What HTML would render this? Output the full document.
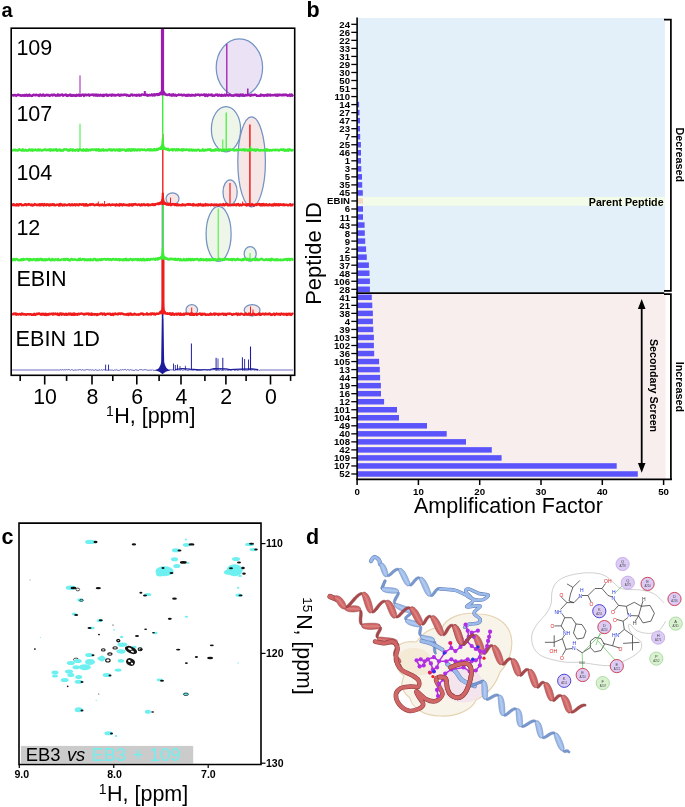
<!DOCTYPE html>
<html><head><meta charset="utf-8"><title>Figure</title>
<style>html,body{margin:0;padding:0;background:#fff;}svg{display:block;will-change:transform;}text{font-family:"Liberation Sans",sans-serif;}</style>
</head><body>
<svg width="685" height="807" viewBox="0 0 685 807">
<rect width="685" height="807" fill="#fff"/>
<g id="panelA">
<ellipse cx="239.4" cy="67.6" rx="23.2" ry="28.7" fill="#ece2f6" stroke="#7393c2" stroke-width="1.25"/>
<ellipse cx="226" cy="129.2" rx="14.6" ry="22.6" fill="#eef6ea" stroke="#7393c2" stroke-width="1.25"/>
<ellipse cx="251.6" cy="161.8" rx="13.8" ry="45" fill="#f7e6e6" stroke="#7393c2" stroke-width="1.25"/>
<ellipse cx="230.1" cy="192.2" rx="7.1" ry="12.4" fill="#f7e6e6" stroke="#7393c2" stroke-width="1.25"/>
<ellipse cx="172.5" cy="198.7" rx="6.5" ry="5.9" fill="#f7e6e6" stroke="#7393c2" stroke-width="1.25"/>
<ellipse cx="218.6" cy="233.9" rx="12.5" ry="27.5" fill="#eef6ea" stroke="#7393c2" stroke-width="1.25"/>
<ellipse cx="250.2" cy="253.8" rx="6" ry="7.2" fill="#eef6ea" stroke="#7393c2" stroke-width="1.25"/>
<ellipse cx="191.8" cy="310" rx="5.8" ry="5.3" fill="#f7e6e6" stroke="#7393c2" stroke-width="1.25"/>
<ellipse cx="252.1" cy="310.3" rx="7.9" ry="5.6" fill="#f7e6e6" stroke="#7393c2" stroke-width="1.25"/>
<polyline points="12.2,370 13,370 13.8,370 14.6,370 15.4,370 16.2,370 17,370 17.8,370 18.6,370 19.4,370 20.2,370 21,370 21.8,370 22.6,370 23.4,370 24.2,370 25,370 25.8,370 26.6,370 27.4,370 28.2,370 29,370 29.8,370 30.6,370 31.4,370 32.2,370 33,370 33.8,370 34.6,370 35.4,370 36.2,370 37,370 37.8,370 38.6,370 39.4,370 40.2,370 41,370 41.8,370 42.6,370 43.4,370 44.2,370 45,370 45.8,370 46.6,370 47.4,370 48.2,370 49,370 49.8,370 50.6,370 51.4,370 52.2,370 53,370 53.8,370 54.6,370 55.4,370 56.2,370 57,370 57.8,370 58.6,370 59.4,370 60.2,369.82 61,369.65 61.8,370.15 62.6,369.57 63.4,370.04 64.2,369.87 65,369.56 65.8,370.01 66.6,369.54 67.4,369.93 68.2,369.57 69,369.59 69.8,369.92 70.6,370.33 71.4,369.62 72.2,369.72 73,370.13 73.8,370.45 74.6,370.08 75.4,369.9 76.2,370.48 77,369.55 77.8,370.36 78.6,369.79 79.4,369.64 80.2,369.62 81,369.81 81.8,370.32 82.6,369.68 83.4,370.08 84.2,370.14 85,369.87 85.8,370.05 86.6,369.56 87.4,369.56 88.2,369.71 89,370.18 89.8,369.93 90.6,369.81 91.4,370.09 92.2,369.95 93,369.8 93.8,370.29 94.6,370.2 95.4,369.74 96.2,370.07 97,370.03 97.8,370.38 98.6,370.23 99.4,369.79 100.2,370.48 101,369.62 101.8,369.92 102.6,370.26 103.4,369.65 104.2,369.99 105,369.54 105.8,370.17 106.6,370.26 107.4,370.07 108.2,370.38 109,369.81 109.8,370.2 110.6,370.09 111.4,370.08 112.2,369.96 113,370.34 113.8,370.44 114.6,369.97 115.4,370.16 116.2,369.56 117,370.2 117.8,370.15 118.6,370.49 119.4,370.32 120.2,369.78 121,369.89 121.8,370.17 122.6,369.52 123.4,369.96 124.2,369.67 125,369.62 125.8,369.56 126.6,370.27 127.4,369.63 128.2,369.75 129,369.89 129.8,370.37 130.6,369.58 131.4,369.95 132.2,370.05 133,370.38 133.8,370.32 134.6,370.36 135.4,369.78 136.2,369.92 137,369.86 137.8,370.38 138.6,370.46 139.4,369.65 140.2,369.68 141,369.73 141.8,369.73 142.6,369.98 143.4,370.09 144.2,369.76 145,369.5 145.8,369.92 146.6,369.87 147.4,370.07 148.2,370.45 149,370.19 149.8,370.02 150.6,370.12 151.4,370.18 152.2,369.55 153,370.4 153.8,370.28 154.6,370.37 155.4,370.3 156.2,369.89 157,369.9 157.8,369.6 158.6,370.13 159.4,369.56 160.2,369.57 161,369.71 161.8,369.66 162.6,369.84 163.4,369.55 164.2,369.5 165,369.65 165.8,369.6 166.6,369.86 167.4,369.53 168.2,370.37 169,370.11 169.8,369.65 170.6,369.75 171.4,369.85 172.2,369.86 173,369.62 173.8,370.35 174.6,370.49 175.4,369.97 176.2,369.98 177,369.59 177.8,369.6 178.6,369.84 179.4,369.76 180.2,370.33 181,369.66 181.8,369.52 182.6,370.45 183.4,370.03 184.2,369.65 185,370.04 185.8,369.53 186.6,370.03 187.4,370.48 188.2,370.36 189,370.2 189.8,369.76 190.6,369.87 191.4,369.67 192.2,370.27 193,370.03 193.8,370.28 194.6,369.83 195.4,369.72 196.2,370.31 197,370.48 197.8,370.35 198.6,370.31 199.4,370.32 200.2,370.24 201,369.73 201.8,370.02 202.6,369.86 203.4,369.53 204.2,369.53 205,369.78 205.8,369.76 206.6,370.19 207.4,370.46 208.2,369.95 209,370.44 209.8,370.49 210.6,370.46 211.4,369.86 212.2,369.72 213,369.73 213.8,369.7 214.6,369.7 215.4,370.12 216.2,370.4 217,370.34 217.8,369.98 218.6,370.15 219.4,370.3 220.2,369.58 221,370.16 221.8,370.41 222.6,370.28 223.4,370.25 224.2,369.98 225,369.68 225.8,370.29 226.6,369.83 227.4,370.3 228.2,370.47 229,369.9 229.8,369.9 230.6,370.45 231.4,370.22 232.2,369.67 233,369.63 233.8,369.65 234.6,370.4 235.4,370.31 236.2,369.65 237,370.33 237.8,370.48 238.6,370.16 239.4,369.85 240.2,370.05 241,369.63 241.8,369.51 242.6,370.47 243.4,370.15 244.2,370.03 245,370.43 245.8,369.93 246.6,370.37 247.4,370.33 248.2,369.71 249,369.75 249.8,369.79 250.6,369.74 251.4,370.09 252.2,369.76 253,369.92 253.8,369.63 254.6,370.41 255.4,369.85 256.2,369.96 257,370.08 257.8,370.4 258.6,369.92 259.4,370.42 260.2,370 261,370 261.8,370 262.6,370 263.4,370 264.2,370 265,370 265.8,370 266.6,370 267.4,370 268.2,370 269,370 269.8,370 270.6,370 271.4,370 272.2,370 273,370 273.8,370 274.6,370 275.4,370 276.2,370 277,370 277.8,370 278.6,370 279.4,370 280.2,370 281,370 281.8,370 282.6,370 283.4,370 284.2,370 285,370 285.8,370 286.6,370 287.4,370 288.2,370 289,370 289.8,370 290.6,370 291.4,370 292.2,370 293,370" fill="none" stroke="#3c3ca8" stroke-width="1.0" stroke-linejoin="round" opacity="0.8"/>
<path d="M155,370.3 Q160,369.6 161.2,362 L162,318 L163.2,318 L164.2,362 Q165.5,369.6 170.5,370.3 Q165,371.3 162.6,374.3 Q160,371.3 155,370.3Z" fill="#1c1c9c"/>
<line x1="162.6" y1="199" x2="162.6" y2="372" stroke="#1c1c9c" stroke-width="1.6"/>
<line x1="105.6" y1="364.6" x2="105.6" y2="370.3" stroke="#1c1c9c" stroke-width="0.9"/>
<line x1="108.5" y1="364.6" x2="108.5" y2="370.3" stroke="#1c1c9c" stroke-width="0.9"/>
<line x1="173.5" y1="363.5" x2="173.5" y2="370.3" stroke="#1c1c9c" stroke-width="0.9"/>
<line x1="175.3" y1="365" x2="175.3" y2="370.3" stroke="#1c1c9c" stroke-width="0.9"/>
<line x1="177.5" y1="364.5" x2="177.5" y2="370.3" stroke="#1c1c9c" stroke-width="0.9"/>
<line x1="180" y1="366" x2="180" y2="370.3" stroke="#1c1c9c" stroke-width="0.8"/>
<line x1="185.4" y1="365.7" x2="185.4" y2="370.3" stroke="#1c1c9c" stroke-width="0.8"/>
<line x1="191.4" y1="343.5" x2="191.4" y2="370.3" stroke="#1c1c9c" stroke-width="1.0"/>
<line x1="216.1" y1="357.8" x2="216.1" y2="370.3" stroke="#1c1c9c" stroke-width="1.0"/>
<line x1="218" y1="358.5" x2="218" y2="370.3" stroke="#1c1c9c" stroke-width="0.8"/>
<line x1="222.8" y1="357.8" x2="222.8" y2="370.3" stroke="#1c1c9c" stroke-width="1.0"/>
<line x1="242.4" y1="357.3" x2="242.4" y2="370.3" stroke="#1c1c9c" stroke-width="1.0"/>
<line x1="244.6" y1="359" x2="244.6" y2="370.3" stroke="#1c1c9c" stroke-width="0.9"/>
<line x1="248.5" y1="359.5" x2="248.5" y2="370.3" stroke="#1c1c9c" stroke-width="0.9"/>
<line x1="250.5" y1="346.5" x2="250.5" y2="370.3" stroke="#1c1c9c" stroke-width="1.1"/>
<polyline points="175,369.5 182,368.5 190,369.2 200,369.8 210,369.5 214,368.6 226,368.8 230,369.6 240,369.2 252,368.8 258,369.6" fill="none" stroke="#1c1c9c" stroke-width="1.2" stroke-linejoin="round" />
<polyline points="12,314.2 12.6,314.25 13.2,314.23 13.8,313.48 14.4,314.11 15,313.72 15.6,313.46 16.2,314.65 16.8,313.71 17.4,314.16 18,314.54 18.6,314.28 19.2,313.94 19.8,314.23 20.4,314.28 21,314.63 21.6,313.61 22.2,314.29 22.8,313.82 23.4,313.86 24,314.61 24.6,314.21 25.2,314.29 25.8,314.59 26.4,314.82 27,314.11 27.6,314.37 28.2,314.21 28.8,314.22 29.4,314.49 30,314.13 30.6,314.25 31.2,314.17 31.8,314.86 32.4,314.5 33,314.76 33.6,314.86 34.2,313.84 34.8,314.29 35.4,314.86 36,314.71 36.6,313.65 37.2,313.63 37.8,314.11 38.4,313.56 39,313.81 39.6,313.56 40.2,314.45 40.8,314.62 41.4,314.79 42,313.68 42.6,314.52 43.2,314.44 43.8,313.66 44.4,314.77 45,314.9 45.6,313.78 46.2,314.88 46.8,314.05 47.4,314.18 48,314.93 48.6,314.7 49.2,313.69 49.8,314.1 50.4,314.22 51,313.96 51.6,313.74 52.2,313.93 52.8,314.53 53.4,313.48 54,314.28 54.6,314.11 55.2,313.48 55.8,313.95 56.4,314.38 57,314.22 57.6,313.54 58.2,314.93 58.8,314.63 59.4,314.91 60,313.61 60.6,313.85 61.2,313.51 61.8,314.62 62.4,313.85 63,313.64 63.6,314.08 64.2,314.82 64.8,314.68 65.4,313.84 66,313.67 66.6,314.83 67.2,314.3 67.8,314.5 68.4,313.58 69,313.53 69.6,314.48 70.2,314.09 70.8,313.56 71.4,314.86 72,314.4 72.6,314.65 73.2,313.57 73.8,314.73 74.4,313.55 75,314.74 75.6,314.13 76.2,313.96 76.8,314.28 77.4,314.84 78,313.85 78.6,313.64 79.2,314.24 79.8,313.8 80.4,313.61 81,313.69 81.6,313.52 82.2,313.75 82.8,313.92 83.4,313.9 84,314.59 84.6,313.88 85.2,314.2 85.8,313.71 86.4,313.97 87,313.47 87.6,313.82 88.2,313.47 88.8,314.55 89.4,314.27 90,313.73 90.6,314.16 91.2,314.85 91.8,313.61 92.4,314.67 93,314.09 93.6,314.19 94.2,314.7 94.8,314.04 95.4,314.21 96,314.48 96.6,314.92 97.2,313.96 97.8,314.69 98.4,314.51 99,314.4 99.6,314.05 100.2,313.97 100.8,313.53 101.4,313.64 102,313.55 102.6,314.56 103.2,313.83 103.8,313.69 104.4,313.57 105,314.71 105.6,314.75 106.2,314.45 106.8,313.87 107.4,313.81 108,313.88 108.6,314.13 109.2,313.68 109.8,314.11 110.4,313.84 111,314.89 111.6,314.9 112.2,314.26 112.8,313.81 113.4,314.89 114,313.91 114.6,313.98 115.2,313.44 115.8,314.01 116.4,314.15 117,314.2 117.6,313.74 118.2,314.2 118.8,313.45 119.4,313.84 120,313.57 120.6,314.04 121.2,313.5 121.8,313.47 122.4,313.89 123,313.79 123.6,314.32 124.2,314.23 124.8,314.56 125.4,314.42 126,314.51 126.6,314.75 127.2,314.02 127.8,313.92 128.4,314.91 129,313.66 129.6,314.52 130.2,314.4 130.8,313.5 131.4,314.68 132,314.77 132.6,314.37 133.2,314.53 133.8,314.65 134.4,313.64 135,314.21 135.6,314.18 136.2,314.68 136.8,314.63 137.4,314.66 138,314.3 138.6,314.76 139.2,314.44 139.8,314.45 140.4,313.76 141,313.46 141.6,313.61 142.2,313.95 142.8,313.56 143.4,314.65 144,314.23 144.6,314.33 145.2,314.33 145.8,314.41 146.4,314.11 147,313.38 147.6,314.56 148.2,314.48 148.8,314.11 149.4,314.15 150,314.32 150.6,313.42 151.2,314.42 151.8,313.67 152.4,313.39 153,313.65 153.6,314.32 154.2,313.51 154.8,314.27 155.4,314.58 156,313.8 156.6,313.57 157.2,313.62 157.8,313.81 158.4,313.79 159,313.36 159.6,313.14 160.2,311.94 160.8,311.62 161.4,311.32 162,311.68 162.6,310.91 163.2,311.52 163.8,311.11 164.4,311.64 165,312.35 165.6,313.28 166.2,313.55 166.8,313.71 167.4,313.27 168,313.71 168.6,313.72 169.2,313.78 169.8,313.31 170.4,314.52 171,313.51 171.6,314.71 172.2,314.67 172.8,313.31 173.4,313.99 174,314.54 174.6,314.78 175.2,314.01 175.8,313.75 176.4,313.67 177,314.78 177.6,313.69 178.2,314.25 178.8,313.59 179.4,314.17 180,314.82 180.6,313.59 181.2,314.63 181.8,314.16 182.4,314.73 183,314.46 183.6,313.76 184.2,314.76 184.8,314.14 185.4,313.45 186,313.42 186.6,314.16 187.2,314.1 187.8,313.87 188.4,313.63 189,313.94 189.6,313.9 190.2,314.69 190.8,313.43 191.4,314.55 192,314.69 192.6,313.61 193.2,314.82 193.8,314.5 194.4,314.78 195,313.87 195.6,313.99 196.2,314.02 196.8,314.93 197.4,314.32 198,313.98 198.6,314.08 199.2,313.85 199.8,313.51 200.4,313.59 201,314.69 201.6,313.87 202.2,314.84 202.8,313.81 203.4,313.84 204,314.21 204.6,313.72 205.2,314 205.8,314.87 206.4,314.77 207,314.66 207.6,314.39 208.2,314.81 208.8,314.85 209.4,314.27 210,314.52 210.6,313.52 211.2,314.54 211.8,314.12 212.4,314.57 213,314.41 213.6,313.87 214.2,313.52 214.8,314.83 215.4,313.63 216,314.15 216.6,313.96 217.2,313.89 217.8,314.55 218.4,314.91 219,313.83 219.6,314.43 220.2,313.9 220.8,314.28 221.4,314.04 222,313.7 222.6,313.69 223.2,313.76 223.8,314.8 224.4,314.19 225,313.78 225.6,314.8 226.2,314.94 226.8,314.12 227.4,313.65 228,313.73 228.6,313.58 229.2,313.96 229.8,313.58 230.4,313.8 231,313.83 231.6,314.3 232.2,314.78 232.8,314.57 233.4,314.07 234,314.07 234.6,314.23 235.2,314.01 235.8,313.95 236.4,313.54 237,313.86 237.6,314.9 238.2,313.64 238.8,314.2 239.4,314.39 240,314.74 240.6,313.77 241.2,313.85 241.8,313.82 242.4,314.05 243,314.12 243.6,314.88 244.2,314.72 244.8,314.76 245.4,313.48 246,313.5 246.6,314.51 247.2,314.79 247.8,314.16 248.4,314.33 249,313.45 249.6,314.03 250.2,314.84 250.8,314.69 251.4,314.73 252,314.91 252.6,313.82 253.2,313.61 253.8,313.68 254.4,314.23 255,314.47 255.6,314.86 256.2,314.53 256.8,314.42 257.4,314.6 258,314.13 258.6,314.28 259.2,313.51 259.8,314.62 260.4,313.8 261,314.83 261.6,314.42 262.2,313.9 262.8,313.64 263.4,313.83 264,314.4 264.6,314.5 265.2,313.62 265.8,313.55 266.4,314.23 267,314.32 267.6,314.03 268.2,313.78 268.8,314.35 269.4,313.46 270,313.9 270.6,314.14 271.2,314.89 271.8,314.42 272.4,314.77 273,314.16 273.6,313.8 274.2,313.82 274.8,314.89 275.4,314.51 276,313.91 276.6,313.48 277.2,314.2 277.8,314.46 278.4,314.08 279,313.83 279.6,314.45 280.2,314.84 280.8,313.79 281.4,313.5 282,313.96 282.6,314.08 283.2,314.47 283.8,313.75 284.4,314.64 285,314.56 285.6,314.21 286.2,313.76 286.8,314.9 287.4,313.92 288,314.68 288.6,313.8 289.2,313.78 289.8,314.59 290.4,313.89 291,314.88 291.6,314.19 292.2,313.73 292.8,313.78 293.4,314.07" fill="none" stroke="#f01c1c" stroke-width="2.4" stroke-linejoin="round" />
<line x1="191.7" y1="307.5" x2="191.7" y2="314.2" stroke="#f01c1c" stroke-width="1.0"/>
<line x1="250.5" y1="306.5" x2="250.5" y2="314.2" stroke="#f01c1c" stroke-width="1.0"/>
<line x1="253" y1="309.5" x2="253" y2="314.2" stroke="#f01c1c" stroke-width="1.0"/>
<line x1="163" y1="257" x2="163" y2="314.2" stroke="#f01c1c" stroke-width="3.0"/>
<path d="M159,314.2 Q161.8,313.2 162,302.2 L164,302.2 Q164.2,313.2 167,314.2Z" fill="#f01c1c"/>
<polyline points="12,259.85 12.6,260.27 13.2,259.07 13.8,259.44 14.4,259.17 15,260.31 15.6,259.06 16.2,258.93 16.8,258.94 17.4,259.44 18,260.2 18.6,260.17 19.2,259.95 19.8,260.35 20.4,260.25 21,259.34 21.6,259.13 22.2,260.25 22.8,259.97 23.4,258.9 24,259.85 24.6,259.42 25.2,259.41 25.8,259.35 26.4,259.1 27,258.85 27.6,259.27 28.2,259.38 28.8,260.28 29.4,259.03 30,260.3 30.6,259.16 31.2,259.38 31.8,260.08 32.4,260.08 33,259.5 33.6,258.92 34.2,259.56 34.8,259.41 35.4,260.23 36,259.14 36.6,259.4 37.2,260.19 37.8,258.89 38.4,259.46 39,260.07 39.6,260 40.2,258.91 40.8,258.9 41.4,258.94 42,260.23 42.6,259.23 43.2,259.97 43.8,260.2 44.4,259.36 45,259.26 45.6,260.29 46.2,259.77 46.8,259.24 47.4,259.92 48,259.32 48.6,259.26 49.2,258.85 49.8,259.98 50.4,260.22 51,259.8 51.6,260.26 52.2,258.88 52.8,259.2 53.4,259.56 54,260.28 54.6,260.28 55.2,259.43 55.8,259.22 56.4,259.49 57,259.59 57.6,260.24 58.2,259.12 58.8,260.05 59.4,259.96 60,260.08 60.6,260.01 61.2,259.76 61.8,259.34 62.4,259.33 63,259.39 63.6,260.02 64.2,258.97 64.8,259.14 65.4,259.98 66,259.22 66.6,258.95 67.2,258.9 67.8,259.68 68.4,259.34 69,260.32 69.6,260.17 70.2,260.33 70.8,259.25 71.4,258.97 72,258.99 72.6,259.6 73.2,259.91 73.8,259.52 74.4,259.2 75,259.47 75.6,259.78 76.2,259.86 76.8,259.97 77.4,260.12 78,259.84 78.6,259.03 79.2,260.11 79.8,259.29 80.4,259.7 81,259.41 81.6,259.95 82.2,259.15 82.8,259.22 83.4,259.22 84,259.08 84.6,260.17 85.2,259.71 85.8,259.34 86.4,259.44 87,260.34 87.6,259.61 88.2,259.19 88.8,260.06 89.4,259.83 90,260.33 90.6,259 91.2,259.56 91.8,260.07 92.4,260.11 93,260.22 93.6,258.91 94.2,259.29 94.8,259.02 95.4,259.13 96,260.31 96.6,259.72 97.2,260.24 97.8,259.4 98.4,260.14 99,259.52 99.6,259.24 100.2,260.01 100.8,260.26 101.4,259 102,259.74 102.6,259.77 103.2,259.17 103.8,259.4 104.4,259.06 105,259.15 105.6,259.23 106.2,259.74 106.8,259.82 107.4,259.15 108,258.86 108.6,259.33 109.2,259.86 109.8,259.12 110.4,259.31 111,259.15 111.6,260.04 112.2,259.66 112.8,258.94 113.4,258.99 114,259.43 114.6,259.67 115.2,259.8 115.8,258.98 116.4,259.09 117,259.88 117.6,259.46 118.2,259.27 118.8,259.3 119.4,260.27 120,259.31 120.6,259.69 121.2,259.37 121.8,259.46 122.4,260.13 123,260.33 123.6,259.38 124.2,259.13 124.8,259.93 125.4,259.14 126,258.84 126.6,260.19 127.2,259.47 127.8,260.07 128.4,259.44 129,260.16 129.6,259.52 130.2,259.08 130.8,258.85 131.4,259.66 132,259.79 132.6,260.19 133.2,258.96 133.8,259.76 134.4,259.38 135,259.58 135.6,259.04 136.2,259.25 136.8,259.6 137.4,260.21 138,258.98 138.6,259.55 139.2,260.02 139.8,260.26 140.4,259.11 141,259 141.6,260.22 142.2,260.27 142.8,259.53 143.4,258.88 144,260.19 144.6,259.37 145.2,260.14 145.8,259.71 146.4,260.02 147,259.01 147.6,259.95 148.2,259.09 148.8,259.36 149.4,260.01 150,259.98 150.6,259 151.2,259.04 151.8,259.29 152.4,259.45 153,259.23 153.6,258.82 154.2,258.97 154.8,259.65 155.4,259.87 156,258.53 156.6,259.24 157.2,259.44 157.8,258.25 158.4,259.29 159,258.01 159.6,258.47 160.2,258.05 160.8,257.74 161.4,256.8 162,256.6 162.6,256.73 163.2,256.71 163.8,257.48 164.4,257.62 165,258.01 165.6,257.7 166.2,258.84 166.8,258.83 167.4,258.58 168,259.48 168.6,259.59 169.2,259.17 169.8,258.8 170.4,259.29 171,258.77 171.6,258.83 172.2,259.31 172.8,258.82 173.4,259.36 174,259.48 174.6,258.79 175.2,259.69 175.8,258.87 176.4,259.86 177,259.93 177.6,259.54 178.2,258.86 178.8,259.54 179.4,259.35 180,260.22 180.6,259 181.2,260.08 181.8,260.29 182.4,259.9 183,260.03 183.6,259.1 184.2,260.28 184.8,259.55 185.4,260.25 186,260.19 186.6,259.07 187.2,260 187.8,260.22 188.4,258.92 189,259.35 189.6,259.96 190.2,259.06 190.8,260.17 191.4,259.24 192,260.05 192.6,259.04 193.2,259.58 193.8,260.21 194.4,259.14 195,259.23 195.6,259.59 196.2,259.31 196.8,258.89 197.4,259.11 198,259.08 198.6,260.24 199.2,259.86 199.8,260.18 200.4,259.09 201,260.01 201.6,259.01 202.2,259.63 202.8,259.79 203.4,259.38 204,260.15 204.6,259.67 205.2,259.71 205.8,260.16 206.4,259 207,260.33 207.6,259.79 208.2,259.43 208.8,260.04 209.4,259.24 210,260.33 210.6,259.71 211.2,259.38 211.8,259.99 212.4,259.51 213,259.11 213.6,259.96 214.2,258.92 214.8,260.07 215.4,259.22 216,259.8 216.6,260.32 217.2,259.72 217.8,259.84 218.4,259.31 219,258.85 219.6,258.89 220.2,259.07 220.8,259.77 221.4,259.49 222,259.61 222.6,260.19 223.2,259.04 223.8,259.19 224.4,259.82 225,258.88 225.6,258.85 226.2,259.38 226.8,259.01 227.4,259.38 228,259.18 228.6,259.72 229.2,259.73 229.8,259.15 230.4,259.78 231,259.56 231.6,259.05 232.2,260.25 232.8,259.21 233.4,259.07 234,258.99 234.6,259.8 235.2,260.15 235.8,260.02 236.4,259.45 237,259.24 237.6,258.86 238.2,259.81 238.8,259.69 239.4,259.37 240,259.82 240.6,259.51 241.2,260.25 241.8,259.95 242.4,259.22 243,260.2 243.6,258.91 244.2,259.64 244.8,259.46 245.4,259.2 246,258.93 246.6,260.02 247.2,258.87 247.8,259.67 248.4,260.26 249,259.06 249.6,259.15 250.2,259.76 250.8,259.61 251.4,259.81 252,260.07 252.6,259.11 253.2,259.31 253.8,259.3 254.4,258.92 255,260.18 255.6,260.02 256.2,259.92 256.8,258.86 257.4,260.11 258,259.97 258.6,259.55 259.2,259.96 259.8,259.53 260.4,259.19 261,259.01 261.6,259.2 262.2,258.91 262.8,259.35 263.4,259.97 264,259.89 264.6,260.12 265.2,259.92 265.8,259.25 266.4,259.68 267,259.5 267.6,260.03 268.2,259.63 268.8,259.25 269.4,259.81 270,260.3 270.6,259.17 271.2,260.17 271.8,258.87 272.4,259.24 273,259.2 273.6,259.96 274.2,260.27 274.8,259.97 275.4,259.34 276,260.17 276.6,259.34 277.2,259.21 277.8,260.21 278.4,259.79 279,259.89 279.6,259.85 280.2,260.32 280.8,259.55 281.4,260.11 282,259.9 282.6,260.13 283.2,259.5 283.8,259.94 284.4,259.7 285,259.31 285.6,259.17 286.2,259.78 286.8,258.97 287.4,260.21 288,259.07 288.6,258.89 289.2,259.01 289.8,260.24 290.4,259.37 291,259.06 291.6,258.89 292.2,258.91 292.8,259.89 293.4,259.8" fill="none" stroke="#3cee34" stroke-width="2.4" stroke-linejoin="round" />
<line x1="218.2" y1="208.5" x2="218.2" y2="259.6" stroke="#3cee34" stroke-width="1.0"/>
<line x1="250" y1="253" x2="250" y2="259.6" stroke="#3cee34" stroke-width="1.0"/>
<line x1="80" y1="257" x2="80" y2="259.6" stroke="#3cee34" stroke-width="0.8"/>
<line x1="162.8" y1="205" x2="162.8" y2="259.6" stroke="#3cee34" stroke-width="1.5"/>
<path d="M158.8,259.6 Q161.6,258.6 161.8,247.6 L163.8,247.6 Q164,258.6 166.8,259.6Z" fill="#3cee34"/>
<polyline points="12,205.09 12.6,205.15 13.2,204.15 13.8,204.93 14.4,204.59 15,205.28 15.6,205.28 16.2,205.39 16.8,204.15 17.4,205.35 18,205.42 18.6,205.47 19.2,204.21 19.8,204.36 20.4,204.22 21,204.1 21.6,205.32 22.2,205.27 22.8,205 23.4,205.29 24,205 24.6,204.48 25.2,204.2 25.8,204.2 26.4,205.19 27,204.36 27.6,204.53 28.2,204.68 28.8,204.08 29.4,204.43 30,204.47 30.6,205.12 31.2,204.6 31.8,204.53 32.4,205.49 33,204.8 33.6,205.33 34.2,204.98 34.8,204.1 35.4,204.67 36,204.7 36.6,205.21 37.2,204.57 37.8,205.11 38.4,204.86 39,204.37 39.6,205.34 40.2,204.19 40.8,205.28 41.4,204.3 42,204.05 42.6,204.35 43.2,205.19 43.8,205.52 44.4,204.06 45,204.78 45.6,204.79 46.2,205.24 46.8,204.33 47.4,204.79 48,204.57 48.6,205.3 49.2,204.44 49.8,205.46 50.4,204.47 51,204.37 51.6,205.1 52.2,204.8 52.8,204.21 53.4,205 54,204.17 54.6,205.23 55.2,205.09 55.8,205.23 56.4,204.99 57,204.58 57.6,204.65 58.2,204.64 58.8,205.38 59.4,204.18 60,205.38 60.6,204.09 61.2,204.36 61.8,204.44 62.4,205.4 63,204.8 63.6,204.62 64.2,205.37 64.8,204.4 65.4,204.74 66,204.85 66.6,205.18 67.2,205.18 67.8,205.02 68.4,204.57 69,204.54 69.6,204.28 70.2,205.31 70.8,205.04 71.4,205.16 72,204.3 72.6,204.71 73.2,205.21 73.8,204.92 74.4,204.24 75,204.74 75.6,205.38 76.2,204.4 76.8,204.33 77.4,204.5 78,205.1 78.6,205.31 79.2,204.28 79.8,204.28 80.4,204.42 81,204.54 81.6,204.83 82.2,204.29 82.8,204.54 83.4,204.33 84,205.51 84.6,205.14 85.2,204.2 85.8,205.49 86.4,204.2 87,204.62 87.6,205.52 88.2,205.24 88.8,205.15 89.4,204.7 90,204.34 90.6,205 91.2,204.21 91.8,204.36 92.4,204.63 93,204.1 93.6,204.64 94.2,205.23 94.8,205.09 95.4,204.8 96,204.99 96.6,204.74 97.2,204.26 97.8,204.95 98.4,204.65 99,205.16 99.6,205.41 100.2,204.69 100.8,204.91 101.4,205.17 102,204.68 102.6,204.39 103.2,205.13 103.8,205.36 104.4,205.21 105,205.09 105.6,205.32 106.2,205.06 106.8,205.01 107.4,204.72 108,204.51 108.6,204.99 109.2,204.19 109.8,204.67 110.4,205.22 111,205.11 111.6,204.99 112.2,204.42 112.8,204.68 113.4,204.73 114,204.97 114.6,204.66 115.2,205.05 115.8,205.44 116.4,204.32 117,205.02 117.6,205.21 118.2,204.62 118.8,204.77 119.4,205.5 120,204.1 120.6,204.85 121.2,204.28 121.8,205.21 122.4,205.45 123,204.82 123.6,204.19 124.2,204.9 124.8,204.85 125.4,205.11 126,204.8 126.6,204.99 127.2,205.28 127.8,204.82 128.4,204.65 129,205.46 129.6,204.35 130.2,205.06 130.8,204.62 131.4,205.17 132,204.21 132.6,205.51 133.2,204.56 133.8,204.11 134.4,204.44 135,204.62 135.6,204.04 136.2,204.65 136.8,204.65 137.4,205.07 138,204.55 138.6,204.42 139.2,204.35 139.8,205.13 140.4,205.42 141,204.8 141.6,204.34 142.2,205.21 142.8,204.59 143.4,204.32 144,204.19 144.6,205.16 145.2,205.2 145.8,204.94 146.4,204.68 147,204.82 147.6,204.31 148.2,205.41 148.8,204.48 149.4,204.9 150,205.16 150.6,205.15 151.2,204.61 151.8,204.34 152.4,204.7 153,204.04 153.6,205.08 154.2,204.33 154.8,205.04 155.4,204.12 156,204.23 156.6,203.97 157.2,204.14 157.8,203.67 158.4,203.24 159,204.12 159.6,203.19 160.2,202.79 160.8,202.45 161.4,202.26 162,201.81 162.6,202.01 163.2,202.26 163.8,202.23 164.4,203.54 165,203.83 165.6,202.95 166.2,204.35 166.8,204.65 167.4,204.61 168,203.75 168.6,204.87 169.2,204.63 169.8,203.76 170.4,203.79 171,205.24 171.6,204.82 172.2,204.24 172.8,204.04 173.4,204.11 174,204.27 174.6,205.09 175.2,204.46 175.8,204.18 176.4,205.31 177,205.15 177.6,204.22 178.2,205.31 178.8,204.89 179.4,205.16 180,204.99 180.6,205.33 181.2,205.18 181.8,205.26 182.4,204.3 183,205.05 183.6,204.8 184.2,205.12 184.8,204.67 185.4,205.34 186,204.85 186.6,204.41 187.2,204.37 187.8,204.23 188.4,204.76 189,204.11 189.6,204.73 190.2,204.24 190.8,204.76 191.4,204.77 192,204.84 192.6,205.32 193.2,204.04 193.8,205.29 194.4,204.73 195,204.88 195.6,205.03 196.2,205.29 196.8,204.6 197.4,204.66 198,205.48 198.6,204.15 199.2,204.99 199.8,204.99 200.4,204.08 201,204.95 201.6,205.06 202.2,205.44 202.8,204.53 203.4,205.51 204,204.81 204.6,204.77 205.2,205.39 205.8,204.09 206.4,205.12 207,204.98 207.6,204.55 208.2,205.33 208.8,204.59 209.4,204.75 210,204.83 210.6,205.2 211.2,204.36 211.8,204.7 212.4,204.68 213,204.87 213.6,205.28 214.2,204.48 214.8,205.28 215.4,204.65 216,204.8 216.6,204.45 217.2,204.8 217.8,205.51 218.4,205.03 219,205.23 219.6,204.54 220.2,204.52 220.8,204.49 221.4,204.92 222,205 222.6,205.22 223.2,204.1 223.8,205.13 224.4,205.37 225,204.86 225.6,204.12 226.2,204.5 226.8,204.05 227.4,204.33 228,205.43 228.6,204.96 229.2,205.03 229.8,205.23 230.4,205.41 231,204.96 231.6,204.97 232.2,204.99 232.8,205.09 233.4,204.94 234,205.07 234.6,204.37 235.2,205.05 235.8,204.73 236.4,205.19 237,204.2 237.6,204.32 238.2,204.1 238.8,205.21 239.4,205.42 240,205.03 240.6,204.6 241.2,205.28 241.8,205.23 242.4,204.89 243,204.43 243.6,204.5 244.2,204.68 244.8,204.52 245.4,204.69 246,205.01 246.6,205.45 247.2,204.13 247.8,204.9 248.4,204.11 249,204.23 249.6,205.26 250.2,204.91 250.8,205.43 251.4,204.72 252,204.07 252.6,204.63 253.2,204.94 253.8,205.45 254.4,205.52 255,204.76 255.6,204.67 256.2,204.2 256.8,205.01 257.4,204.37 258,204.28 258.6,204.07 259.2,204.06 259.8,205.07 260.4,204.23 261,205.5 261.6,204.18 262.2,205.35 262.8,204.24 263.4,204.07 264,205.13 264.6,204.41 265.2,205.15 265.8,204.33 266.4,204.12 267,205.21 267.6,205.12 268.2,205.33 268.8,205.14 269.4,204.17 270,204.99 270.6,205.11 271.2,204.74 271.8,205.45 272.4,204.43 273,205.49 273.6,205.12 274.2,204.07 274.8,204.07 275.4,205.02 276,205.27 276.6,204.17 277.2,204.52 277.8,205.14 278.4,204.3 279,205.34 279.6,204.78 280.2,204.14 280.8,204.6 281.4,204.91 282,204.71 282.6,205.06 283.2,204.27 283.8,205.24 284.4,204.59 285,205.02 285.6,204.99 286.2,204.68 286.8,204.63 287.4,205.23 288,205.47 288.6,205.23 289.2,204.9 289.8,204.49 290.4,204.14 291,205.51 291.6,205.1 292.2,205.29 292.8,204.55 293.4,204.96" fill="none" stroke="#f01c1c" stroke-width="2.4" stroke-linejoin="round" />
<line x1="230" y1="183" x2="230" y2="204.8" stroke="#f01c1c" stroke-width="1.2"/>
<line x1="170.5" y1="197.6" x2="170.5" y2="204.8" stroke="#f01c1c" stroke-width="1.0"/>
<line x1="98.3" y1="201.5" x2="98.3" y2="204.8" stroke="#f01c1c" stroke-width="1.0"/>
<line x1="104.6" y1="201" x2="104.6" y2="204.8" stroke="#f01c1c" stroke-width="1.0"/>
<line x1="242.7" y1="201.5" x2="242.7" y2="204.8" stroke="#f01c1c" stroke-width="1.0"/>
<line x1="249.9" y1="124.6" x2="249.9" y2="204.8" stroke="#f01c1c" stroke-width="1.5"/>
<line x1="162.8" y1="134" x2="162.8" y2="204.8" stroke="#f01c1c" stroke-width="1.4"/>
<path d="M158.8,204.8 Q161.6,203.8 161.8,192.8 L163.8,192.8 Q164,203.8 166.8,204.8Z" fill="#f01c1c"/>
<polyline points="12,150.72 12.6,150.5 13.2,150.15 13.8,149.71 14.4,149.89 15,150.58 15.6,149.81 16.2,150.28 16.8,150.15 17.4,150.59 18,150.46 18.6,149.67 19.2,149.25 19.8,149.64 20.4,149.88 21,150.13 21.6,150.47 22.2,150.58 22.8,149.31 23.4,150.5 24,150.47 24.6,150.55 25.2,150.11 25.8,149.66 26.4,150.53 27,150.46 27.6,150.28 28.2,150.62 28.8,149.77 29.4,149.38 30,150.08 30.6,150.45 31.2,149.55 31.8,150.37 32.4,150.65 33,149.6 33.6,150.16 34.2,150.27 34.8,149.95 35.4,149.56 36,149.63 36.6,150.38 37.2,150.44 37.8,149.94 38.4,149.38 39,150.46 39.6,150.41 40.2,149.6 40.8,150.12 41.4,150.59 42,150.58 42.6,150.03 43.2,149.96 43.8,150.13 44.4,149.53 45,149.54 45.6,149.52 46.2,150.3 46.8,149.79 47.4,150.1 48,149.85 48.6,150.02 49.2,149.47 49.8,149.32 50.4,150.74 51,149.81 51.6,149.41 52.2,150.2 52.8,150.43 53.4,149.48 54,150.14 54.6,149.77 55.2,150.03 55.8,149.28 56.4,149.3 57,150.73 57.6,150.55 58.2,149.98 58.8,150.1 59.4,149.64 60,150.42 60.6,149.89 61.2,150.67 61.8,150.4 62.4,150.48 63,150.69 63.6,149.63 64.2,149.3 64.8,149.55 65.4,149.52 66,149.37 66.6,149.32 67.2,150.08 67.8,150.55 68.4,149.94 69,150.67 69.6,150.61 70.2,149.34 70.8,150.14 71.4,149.84 72,149.43 72.6,150.69 73.2,149.63 73.8,150.09 74.4,150.21 75,150.68 75.6,150.25 76.2,149.84 76.8,149.92 77.4,149.49 78,150.7 78.6,150.73 79.2,149.58 79.8,149.31 80.4,149.63 81,149.78 81.6,150.6 82.2,150.6 82.8,150.5 83.4,149.32 84,150.43 84.6,150.31 85.2,150.22 85.8,150.72 86.4,149.33 87,149.46 87.6,150.38 88.2,150.66 88.8,150.26 89.4,149.69 90,150.13 90.6,150.38 91.2,149.4 91.8,149.73 92.4,149.63 93,149.43 93.6,149.97 94.2,149.5 94.8,149.6 95.4,149.46 96,150.26 96.6,149.26 97.2,150.32 97.8,149.54 98.4,149.3 99,150.64 99.6,149.58 100.2,150.65 100.8,150.55 101.4,150.58 102,149.45 102.6,149.92 103.2,149.39 103.8,150.64 104.4,150.51 105,150.19 105.6,149.92 106.2,149.75 106.8,150.48 107.4,149.96 108,150.19 108.6,149.46 109.2,149.58 109.8,149.33 110.4,150.31 111,150.07 111.6,149.46 112.2,150.55 112.8,149.64 113.4,149.86 114,149.48 114.6,149.65 115.2,150.5 115.8,149.74 116.4,149.49 117,149.98 117.6,149.72 118.2,150.6 118.8,149.41 119.4,150.71 120,149.32 120.6,150.58 121.2,150.24 121.8,149.56 122.4,149.95 123,149.67 123.6,149.62 124.2,149.54 124.8,149.78 125.4,150.72 126,150.73 126.6,150.62 127.2,149.38 127.8,149.67 128.4,150.58 129,149.32 129.6,150.32 130.2,149.67 130.8,150.7 131.4,149.25 132,150.44 132.6,149.74 133.2,149.44 133.8,149.23 134.4,150.47 135,150.02 135.6,149.5 136.2,149.88 136.8,150.59 137.4,149.55 138,150.08 138.6,149.42 139.2,149.49 139.8,150.37 140.4,150.28 141,149.51 141.6,149.33 142.2,149.34 142.8,150.12 143.4,149.94 144,149.61 144.6,149.5 145.2,150.11 145.8,150.25 146.4,150.4 147,150.05 147.6,149.47 148.2,149.26 148.8,150.25 149.4,149.76 150,150.22 150.6,149.21 151.2,150.33 151.8,149.6 152.4,150.34 153,150.35 153.6,149.77 154.2,149.02 154.8,150.33 155.4,149.63 156,150.17 156.6,149.19 157.2,148.98 157.8,149.84 158.4,148.99 159,148.48 159.6,148.53 160.2,148.52 160.8,147.21 161.4,147.52 162,147.03 162.6,147.03 163.2,146.65 163.8,147.96 164.4,148.57 165,149.05 165.6,148.55 166.2,149.38 166.8,149.06 167.4,149.76 168,148.83 168.6,150.13 169.2,150.31 169.8,149.68 170.4,149.75 171,149.81 171.6,149.85 172.2,149.09 172.8,150.53 173.4,149.44 174,149.39 174.6,149.28 175.2,149.51 175.8,150.37 176.4,149.2 177,149.31 177.6,150.22 178.2,149.47 178.8,149.21 179.4,150.08 180,150.05 180.6,149.98 181.2,150.25 181.8,149.35 182.4,150.51 183,150.28 183.6,149.28 184.2,149.4 184.8,149.95 185.4,149.97 186,149.64 186.6,149.4 187.2,149.83 187.8,149.43 188.4,150.11 189,150.52 189.6,149.45 190.2,150.09 190.8,150.35 191.4,149.47 192,150.47 192.6,150.64 193.2,149.81 193.8,149.86 194.4,150.49 195,150.02 195.6,149.83 196.2,150.65 196.8,150.4 197.4,149.74 198,149.6 198.6,149.74 199.2,149.89 199.8,150.71 200.4,150.44 201,150.61 201.6,150.46 202.2,150.51 202.8,149.32 203.4,150.01 204,150.68 204.6,150.64 205.2,149.61 205.8,149.87 206.4,150.19 207,149.79 207.6,150.04 208.2,149.34 208.8,149.89 209.4,150 210,149.27 210.6,149.45 211.2,150.7 211.8,150.41 212.4,150.65 213,150.19 213.6,150.46 214.2,150.57 214.8,150.57 215.4,149.29 216,150.21 216.6,149.64 217.2,150.26 217.8,149.65 218.4,150.06 219,150.63 219.6,150.18 220.2,149.62 220.8,150.02 221.4,149.9 222,150.67 222.6,149.68 223.2,149.7 223.8,150.22 224.4,149.43 225,150.14 225.6,150.68 226.2,150.02 226.8,149.65 227.4,149.95 228,150.05 228.6,149.47 229.2,149.43 229.8,149.44 230.4,149.69 231,149.86 231.6,149.68 232.2,149.61 232.8,149.38 233.4,150.07 234,150.51 234.6,150.16 235.2,150.1 235.8,150.22 236.4,149.55 237,150.31 237.6,149.94 238.2,150.07 238.8,150.17 239.4,149.95 240,149.71 240.6,149.61 241.2,149.58 241.8,150.02 242.4,149.82 243,150.13 243.6,149.26 244.2,149.78 244.8,150.54 245.4,149.61 246,150.08 246.6,149.98 247.2,149.67 247.8,150.73 248.4,149.69 249,150.41 249.6,149.49 250.2,149.35 250.8,150.55 251.4,149.91 252,149.34 252.6,149.83 253.2,149.91 253.8,150.35 254.4,149.41 255,149.59 255.6,150.69 256.2,150.36 256.8,149.48 257.4,149.75 258,149.78 258.6,150.26 259.2,150.17 259.8,150.52 260.4,150.48 261,150.02 261.6,150.36 262.2,150.36 262.8,150.39 263.4,149.96 264,150.43 264.6,150.31 265.2,150.62 265.8,149.44 266.4,150.55 267,149.25 267.6,150.4 268.2,150.13 268.8,150 269.4,150.69 270,150.11 270.6,149.88 271.2,150.42 271.8,150.56 272.4,150.16 273,149.82 273.6,149.93 274.2,149.94 274.8,150.33 275.4,149.69 276,149.83 276.6,150.08 277.2,149.83 277.8,149.73 278.4,150.43 279,150.52 279.6,150 280.2,149.91 280.8,149.52 281.4,149.7 282,149.47 282.6,150.11 283.2,150.12 283.8,149.38 284.4,150.63 285,149.73 285.6,150.51 286.2,150.51 286.8,150.69 287.4,149.56 288,149.89 288.6,150.61 289.2,149.26 289.8,149.32 290.4,150.1 291,149.99 291.6,150.63 292.2,150.41 292.8,150.06 293.4,150.75" fill="none" stroke="#3cee34" stroke-width="2.4" stroke-linejoin="round" />
<line x1="80" y1="123.7" x2="80" y2="150" stroke="#3cee34" stroke-width="1.0"/>
<line x1="226.2" y1="112.4" x2="226.2" y2="150" stroke="#3cee34" stroke-width="1.2"/>
<line x1="222.8" y1="139.5" x2="222.8" y2="150" stroke="#3cee34" stroke-width="1.0"/>
<line x1="250.5" y1="146" x2="250.5" y2="150" stroke="#3cee34" stroke-width="1.4"/>
<line x1="162.7" y1="78" x2="162.7" y2="150" stroke="#3cee34" stroke-width="1.4"/>
<path d="M158.7,150 Q161.5,149 161.7,138 L163.7,138 Q163.9,149 166.7,150Z" fill="#3cee34"/>
<polyline points="12,95.23 12.6,95.23 13.2,95.48 13.8,95.03 14.4,94.99 15,95.34 15.6,94.98 16.2,95.87 16.8,95.46 17.4,95.24 18,94.6 18.6,95.01 19.2,95.05 19.8,95.29 20.4,95.31 21,95.77 21.6,95.9 22.2,95.18 22.8,95.11 23.4,95.39 24,95.94 24.6,94.96 25.2,95.24 25.8,95.67 26.4,94.71 27,94.93 27.6,95.92 28.2,95.69 28.8,95.22 29.4,94.61 30,95.79 30.6,95.48 31.2,95.68 31.8,95.93 32.4,95.78 33,95.08 33.6,94.68 34.2,94.88 34.8,95.22 35.4,95.21 36,94.73 36.6,94.72 37.2,95.39 37.8,95.35 38.4,94.98 39,95.94 39.6,95.4 40.2,94.51 40.8,95.07 41.4,95.63 42,94.91 42.6,95.48 43.2,94.45 43.8,94.91 44.4,95.71 45,95.33 45.6,95.45 46.2,94.74 46.8,95.2 47.4,95.28 48,94.85 48.6,95.42 49.2,95.25 49.8,95.94 50.4,95.31 51,95.07 51.6,94.63 52.2,94.68 52.8,95.59 53.4,94.61 54,94.6 54.6,94.7 55.2,95.23 55.8,95.68 56.4,95.37 57,95.66 57.6,94.54 58.2,94.47 58.8,95.6 59.4,94.93 60,95.52 60.6,94.98 61.2,94.7 61.8,94.85 62.4,94.6 63,95.8 63.6,95.32 64.2,94.97 64.8,95.12 65.4,95.03 66,94.53 66.6,95.78 67.2,95.32 67.8,95.89 68.4,95.11 69,95.38 69.6,94.82 70.2,94.51 70.8,95.84 71.4,95.73 72,94.92 72.6,95.8 73.2,95.67 73.8,94.9 74.4,95.35 75,95.89 75.6,95.19 76.2,95.87 76.8,94.81 77.4,95.03 78,95.53 78.6,94.78 79.2,94.91 79.8,95.76 80.4,95.17 81,95.64 81.6,94.81 82.2,94.71 82.8,94.98 83.4,94.73 84,95.9 84.6,94.88 85.2,95.29 85.8,94.62 86.4,95.25 87,95.03 87.6,95.05 88.2,94.54 88.8,94.63 89.4,95.69 90,94.97 90.6,94.81 91.2,94.73 91.8,94.87 92.4,94.8 93,94.5 93.6,95.44 94.2,94.96 94.8,94.68 95.4,95.5 96,94.58 96.6,94.85 97.2,95.7 97.8,94.64 98.4,95.11 99,95.7 99.6,95.65 100.2,94.68 100.8,94.97 101.4,95.53 102,95.01 102.6,95.88 103.2,94.76 103.8,95.87 104.4,95.2 105,94.79 105.6,95.12 106.2,94.64 106.8,95.5 107.4,94.83 108,95.79 108.6,95.32 109.2,95 109.8,94.81 110.4,95.36 111,94.76 111.6,95.75 112.2,94.63 112.8,95.21 113.4,95.26 114,94.85 114.6,95.6 115.2,95.02 115.8,95.43 116.4,95.29 117,94.91 117.6,95.03 118.2,94.57 118.8,94.71 119.4,95.72 120,94.92 120.6,95.43 121.2,94.6 121.8,95.28 122.4,94.98 123,95.19 123.6,94.88 124.2,94.54 124.8,94.9 125.4,94.78 126,94.63 126.6,95.51 127.2,94.86 127.8,95.04 128.4,95.8 129,95.6 129.6,95.76 130.2,95.72 130.8,94.63 131.4,94.85 132,94.47 132.6,95.45 133.2,95.42 133.8,94.95 134.4,95.05 135,95.41 135.6,95.47 136.2,94.8 136.8,95.69 137.4,94.95 138,95.36 138.6,94.69 139.2,94.59 139.8,95.78 140.4,95.51 141,95.48 141.6,94.47 142.2,94.47 142.8,94.65 143.4,94.7 144,94.85 144.6,94.96 145.2,94.45 145.8,94.85 146.4,95.34 147,94.64 147.6,95.63 148.2,95.22 148.8,95.43 149.4,94.73 150,94.99 150.6,95.35 151.2,94.83 151.8,94.3 152.4,95.53 153,95.42 153.6,94.66 154.2,94.26 154.8,95.45 155.4,95.03 156,94.13 156.6,94.36 157.2,94.07 157.8,94.98 158.4,93.95 159,94.81 159.6,94.3 160.2,92.95 160.8,93.44 161.4,92.53 162,92.69 162.6,92.7 163.2,92.09 163.8,92.22 164.4,93.97 165,93.59 165.6,94.66 166.2,94.55 166.8,94.8 167.4,95.08 168,94.88 168.6,94.7 169.2,94.16 169.8,95.18 170.4,94.82 171,94.98 171.6,95.63 172.2,94.45 172.8,95.43 173.4,94.37 174,95.37 174.6,95.54 175.2,94.73 175.8,95.17 176.4,95.81 177,95.32 177.6,95.19 178.2,94.75 178.8,94.47 179.4,94.92 180,95.01 180.6,94.7 181.2,94.86 181.8,94.61 182.4,95.46 183,95.41 183.6,94.77 184.2,94.77 184.8,95.19 185.4,95.08 186,95.82 186.6,94.95 187.2,94.87 187.8,95.75 188.4,94.64 189,95.27 189.6,94.93 190.2,95.65 190.8,95.25 191.4,95.57 192,94.68 192.6,95.43 193.2,95.33 193.8,95.12 194.4,95.58 195,95.68 195.6,94.6 196.2,94.87 196.8,94.97 197.4,94.74 198,94.53 198.6,94.86 199.2,94.73 199.8,95.49 200.4,95.11 201,94.61 201.6,94.92 202.2,95.14 202.8,94.98 203.4,94.69 204,94.55 204.6,94.46 205.2,95.93 205.8,95.57 206.4,94.57 207,95.52 207.6,95.91 208.2,95.29 208.8,94.6 209.4,95.17 210,95.09 210.6,94.73 211.2,95.26 211.8,94.45 212.4,95.82 213,95.41 213.6,95.38 214.2,95.85 214.8,95.42 215.4,94.82 216,94.81 216.6,94.65 217.2,94.49 217.8,95.61 218.4,95.7 219,94.89 219.6,94.72 220.2,95.4 220.8,95.71 221.4,95.83 222,94.7 222.6,95.62 223.2,95.69 223.8,95.56 224.4,94.94 225,94.72 225.6,95.68 226.2,94.93 226.8,95 227.4,95.27 228,95 228.6,95.69 229.2,94.8 229.8,94.51 230.4,95.3 231,95.39 231.6,95.68 232.2,95.5 232.8,95.8 233.4,95.86 234,95.19 234.6,95.2 235.2,94.68 235.8,94.9 236.4,95.32 237,94.57 237.6,95.48 238.2,94.69 238.8,95.11 239.4,95.9 240,94.58 240.6,94.51 241.2,95.11 241.8,94.73 242.4,95.53 243,94.45 243.6,95.71 244.2,95.73 244.8,95.63 245.4,95.09 246,94.87 246.6,95.44 247.2,95.22 247.8,95.08 248.4,94.96 249,95.11 249.6,95.45 250.2,95.69 250.8,95.8 251.4,94.69 252,94.89 252.6,95.11 253.2,95.29 253.8,94.97 254.4,94.74 255,94.58 255.6,94.93 256.2,95.14 256.8,95.9 257.4,95.81 258,95.75 258.6,95.91 259.2,95.89 259.8,95.38 260.4,95.66 261,94.54 261.6,95.46 262.2,95.36 262.8,94.89 263.4,95.3 264,95.88 264.6,95.17 265.2,95.42 265.8,94.9 266.4,94.96 267,95.78 267.6,94.49 268.2,94.73 268.8,95.47 269.4,95.12 270,94.58 270.6,95.44 271.2,95.01 271.8,95.32 272.4,95.07 273,95.24 273.6,95.3 274.2,95.04 274.8,94.62 275.4,94.72 276,95.78 276.6,95.27 277.2,94.62 277.8,95.74 278.4,94.83 279,94.59 279.6,95.24 280.2,94.83 280.8,95.18 281.4,95.28 282,94.79 282.6,95.31 283.2,94.62 283.8,95.22 284.4,95.33 285,94.57 285.6,95.06 286.2,94.56 286.8,95.11 287.4,95.74 288,95.27 288.6,95.52 289.2,95.58 289.8,94.62 290.4,95.93 291,95.53 291.6,94.6 292.2,95.69 292.8,95.04 293.4,94.71" fill="none" stroke="#9c1cb0" stroke-width="2.4" stroke-linejoin="round" />
<line x1="80" y1="75.4" x2="80" y2="95.2" stroke="#9c1cb0" stroke-width="1.0"/>
<line x1="226.8" y1="43.9" x2="226.8" y2="95.2" stroke="#9c1cb0" stroke-width="1.3"/>
<line x1="247.8" y1="88.5" x2="247.8" y2="95.2" stroke="#9c1cb0" stroke-width="1.5"/>
<line x1="144.8" y1="91" x2="144.8" y2="95.2" stroke="#9c1cb0" stroke-width="2.0"/>
<line x1="162.5" y1="28.2" x2="162.5" y2="95.2" stroke="#9c1cb0" stroke-width="3.2"/>
<path d="M158.5,95.2 Q161.3,94.2 161.5,83.2 L163.5,83.2 Q163.7,94.2 166.5,95.2Z" fill="#9c1cb0"/>
<text x="16.4" y="55.3" font-size="21.5" font-weight="normal" text-anchor="start" fill="#000" >109</text>
<text x="16.4" y="120.6" font-size="21.5" font-weight="normal" text-anchor="start" fill="#000" >107</text>
<text x="16.4" y="180" font-size="21.5" font-weight="normal" text-anchor="start" fill="#000" >104</text>
<text x="16.4" y="234.6" font-size="21.5" font-weight="normal" text-anchor="start" fill="#000" >12</text>
<text x="16.4" y="285.6" font-size="21.5" font-weight="normal" text-anchor="start" fill="#000" >EBIN</text>
<text x="15.6" y="345.6" font-size="21.7" font-weight="normal" text-anchor="start" fill="#000" >EBIN 1D</text>
<rect x="11.2" y="28.2" width="283.5" height="347.1" fill="none" stroke="#000" stroke-width="1.6"/>
<line x1="20.2" y1="375.3" x2="20.2" y2="380.9" stroke="#000" stroke-width="1.6"/>
<line x1="44.7" y1="375.3" x2="44.7" y2="384.5" stroke="#000" stroke-width="1.6"/>
<line x1="66.6" y1="375.3" x2="66.6" y2="380.9" stroke="#000" stroke-width="1.6"/>
<line x1="92" y1="375.3" x2="92" y2="384.5" stroke="#000" stroke-width="1.6"/>
<line x1="112.8" y1="375.3" x2="112.8" y2="380.9" stroke="#000" stroke-width="1.6"/>
<line x1="136.8" y1="375.3" x2="136.8" y2="384.5" stroke="#000" stroke-width="1.6"/>
<line x1="159.1" y1="375.3" x2="159.1" y2="380.9" stroke="#000" stroke-width="1.6"/>
<line x1="181" y1="375.3" x2="181" y2="384.5" stroke="#000" stroke-width="1.6"/>
<line x1="204.9" y1="375.3" x2="204.9" y2="380.9" stroke="#000" stroke-width="1.6"/>
<line x1="225.9" y1="375.3" x2="225.9" y2="384.5" stroke="#000" stroke-width="1.6"/>
<line x1="246.1" y1="375.3" x2="246.1" y2="380.9" stroke="#000" stroke-width="1.6"/>
<line x1="270.5" y1="375.3" x2="270.5" y2="384.5" stroke="#000" stroke-width="1.6"/>
<line x1="290.6" y1="375.3" x2="290.6" y2="380.9" stroke="#000" stroke-width="1.6"/>
<text x="45.1" y="404.3" font-size="21.3" font-weight="normal" text-anchor="middle" fill="#000" >10</text>
<text x="92.4" y="404.3" font-size="21.3" font-weight="normal" text-anchor="middle" fill="#000" >8</text>
<text x="137.2" y="404.3" font-size="21.3" font-weight="normal" text-anchor="middle" fill="#000" >6</text>
<text x="181.4" y="404.3" font-size="21.3" font-weight="normal" text-anchor="middle" fill="#000" >4</text>
<text x="226.3" y="404.3" font-size="21.3" font-weight="normal" text-anchor="middle" fill="#000" >2</text>
<text x="270.9" y="404.3" font-size="21.3" font-weight="normal" text-anchor="middle" fill="#000" >0</text>
<text x="105.9" y="416.4" font-size="14" font-weight="normal" text-anchor="start" fill="#000" >1</text>
<text x="114.2" y="423" font-size="21.5" font-weight="normal" text-anchor="start" fill="#000" >H, [ppm]</text>
</g>
<g id="panelB">
<rect x="357.8" y="18" width="307.1" height="274" fill="#e3eff9"/>
<rect x="357.8" y="294" width="307.7" height="185" fill="#f9eeee"/>
<rect x="357.8" y="196.9" width="307.1" height="8.8" fill="#f3fce9"/>
<line x1="351.3" y1="24.3" x2="357.1" y2="24.3" stroke="#000" stroke-width="1.3"/>
<text x="350" y="27.8" font-size="9.6" font-weight="bold" text-anchor="end" fill="#000" >24</text>
<line x1="351.3" y1="32.33" x2="357.1" y2="32.33" stroke="#000" stroke-width="1.3"/>
<text x="350" y="35.83" font-size="9.6" font-weight="bold" text-anchor="end" fill="#000" >26</text>
<line x1="351.3" y1="40.36" x2="357.1" y2="40.36" stroke="#000" stroke-width="1.3"/>
<text x="350" y="43.86" font-size="9.6" font-weight="bold" text-anchor="end" fill="#000" >22</text>
<line x1="351.3" y1="48.39" x2="357.1" y2="48.39" stroke="#000" stroke-width="1.3"/>
<text x="350" y="51.89" font-size="9.6" font-weight="bold" text-anchor="end" fill="#000" >33</text>
<line x1="351.3" y1="56.42" x2="357.1" y2="56.42" stroke="#000" stroke-width="1.3"/>
<text x="350" y="59.92" font-size="9.6" font-weight="bold" text-anchor="end" fill="#000" >31</text>
<line x1="351.3" y1="64.45" x2="357.1" y2="64.45" stroke="#000" stroke-width="1.3"/>
<text x="350" y="67.95" font-size="9.6" font-weight="bold" text-anchor="end" fill="#000" >29</text>
<line x1="351.3" y1="72.48" x2="357.1" y2="72.48" stroke="#000" stroke-width="1.3"/>
<text x="350" y="75.98" font-size="9.6" font-weight="bold" text-anchor="end" fill="#000" >30</text>
<line x1="351.3" y1="80.51" x2="357.1" y2="80.51" stroke="#000" stroke-width="1.3"/>
<text x="350" y="84.01" font-size="9.6" font-weight="bold" text-anchor="end" fill="#000" >50</text>
<line x1="351.3" y1="88.54" x2="357.1" y2="88.54" stroke="#000" stroke-width="1.3"/>
<text x="350" y="92.04" font-size="9.6" font-weight="bold" text-anchor="end" fill="#000" >51</text>
<line x1="351.3" y1="96.57" x2="357.1" y2="96.57" stroke="#000" stroke-width="1.3"/>
<text x="350" y="100.07" font-size="9.6" font-weight="bold" text-anchor="end" fill="#000" >110</text>
<rect x="357.1" y="101.85" width="2" height="5.5" fill="#5b54fb"/>
<line x1="351.3" y1="104.6" x2="357.1" y2="104.6" stroke="#000" stroke-width="1.3"/>
<text x="350" y="108.1" font-size="9.6" font-weight="bold" text-anchor="end" fill="#000" >14</text>
<rect x="357.1" y="109.88" width="2.4" height="5.5" fill="#5b54fb"/>
<line x1="351.3" y1="112.63" x2="357.1" y2="112.63" stroke="#000" stroke-width="1.3"/>
<text x="350" y="116.13" font-size="9.6" font-weight="bold" text-anchor="end" fill="#000" >27</text>
<rect x="357.1" y="117.91" width="2.9" height="5.5" fill="#5b54fb"/>
<line x1="351.3" y1="120.66" x2="357.1" y2="120.66" stroke="#000" stroke-width="1.3"/>
<text x="350" y="124.16" font-size="9.6" font-weight="bold" text-anchor="end" fill="#000" >47</text>
<rect x="357.1" y="125.94" width="2.9" height="5.5" fill="#5b54fb"/>
<line x1="351.3" y1="128.69" x2="357.1" y2="128.69" stroke="#000" stroke-width="1.3"/>
<text x="350" y="132.19" font-size="9.6" font-weight="bold" text-anchor="end" fill="#000" >23</text>
<rect x="357.1" y="133.97" width="3.1" height="5.5" fill="#5b54fb"/>
<line x1="351.3" y1="136.72" x2="357.1" y2="136.72" stroke="#000" stroke-width="1.3"/>
<text x="350" y="140.22" font-size="9.6" font-weight="bold" text-anchor="end" fill="#000" >7</text>
<rect x="357.1" y="142" width="3.8" height="5.5" fill="#5b54fb"/>
<line x1="351.3" y1="144.75" x2="357.1" y2="144.75" stroke="#000" stroke-width="1.3"/>
<text x="350" y="148.25" font-size="9.6" font-weight="bold" text-anchor="end" fill="#000" >25</text>
<rect x="357.1" y="150.03" width="3.9" height="5.5" fill="#5b54fb"/>
<line x1="351.3" y1="152.78" x2="357.1" y2="152.78" stroke="#000" stroke-width="1.3"/>
<text x="350" y="156.28" font-size="9.6" font-weight="bold" text-anchor="end" fill="#000" >46</text>
<rect x="357.1" y="158.06" width="3.9" height="5.5" fill="#5b54fb"/>
<line x1="351.3" y1="160.81" x2="357.1" y2="160.81" stroke="#000" stroke-width="1.3"/>
<text x="350" y="164.31" font-size="9.6" font-weight="bold" text-anchor="end" fill="#000" >1</text>
<rect x="357.1" y="166.09" width="4.2" height="5.5" fill="#5b54fb"/>
<line x1="351.3" y1="168.84" x2="357.1" y2="168.84" stroke="#000" stroke-width="1.3"/>
<text x="350" y="172.34" font-size="9.6" font-weight="bold" text-anchor="end" fill="#000" >3</text>
<rect x="357.1" y="174.12" width="4.9" height="5.5" fill="#5b54fb"/>
<line x1="351.3" y1="176.87" x2="357.1" y2="176.87" stroke="#000" stroke-width="1.3"/>
<text x="350" y="180.37" font-size="9.6" font-weight="bold" text-anchor="end" fill="#000" >5</text>
<rect x="357.1" y="182.15" width="5.1" height="5.5" fill="#5b54fb"/>
<line x1="351.3" y1="184.9" x2="357.1" y2="184.9" stroke="#000" stroke-width="1.3"/>
<text x="350" y="188.4" font-size="9.6" font-weight="bold" text-anchor="end" fill="#000" >35</text>
<rect x="357.1" y="190.18" width="5.7" height="5.5" fill="#5b54fb"/>
<line x1="351.3" y1="192.93" x2="357.1" y2="192.93" stroke="#000" stroke-width="1.3"/>
<text x="350" y="196.43" font-size="9.6" font-weight="bold" text-anchor="end" fill="#000" >45</text>
<rect x="357.1" y="198.21" width="5.9" height="5.5" fill="#f2d6c6"/>
<line x1="351.3" y1="200.96" x2="357.1" y2="200.96" stroke="#000" stroke-width="1.3"/>
<text x="350" y="204.46" font-size="9.6" font-weight="bold" text-anchor="end" fill="#000" >EBIN</text>
<rect x="357.1" y="206.24" width="5.9" height="5.5" fill="#5b54fb"/>
<line x1="351.3" y1="208.99" x2="357.1" y2="208.99" stroke="#000" stroke-width="1.3"/>
<text x="350" y="212.49" font-size="9.6" font-weight="bold" text-anchor="end" fill="#000" >6</text>
<rect x="357.1" y="214.27" width="5.9" height="5.5" fill="#5b54fb"/>
<line x1="351.3" y1="217.02" x2="357.1" y2="217.02" stroke="#000" stroke-width="1.3"/>
<text x="350" y="220.52" font-size="9.6" font-weight="bold" text-anchor="end" fill="#000" >11</text>
<rect x="357.1" y="222.3" width="7.5" height="5.5" fill="#5b54fb"/>
<line x1="351.3" y1="225.05" x2="357.1" y2="225.05" stroke="#000" stroke-width="1.3"/>
<text x="350" y="228.55" font-size="9.6" font-weight="bold" text-anchor="end" fill="#000" >43</text>
<rect x="357.1" y="230.33" width="7.7" height="5.5" fill="#5b54fb"/>
<line x1="351.3" y1="233.08" x2="357.1" y2="233.08" stroke="#000" stroke-width="1.3"/>
<text x="350" y="236.58" font-size="9.6" font-weight="bold" text-anchor="end" fill="#000" >8</text>
<rect x="357.1" y="238.36" width="8.1" height="5.5" fill="#5b54fb"/>
<line x1="351.3" y1="241.11" x2="357.1" y2="241.11" stroke="#000" stroke-width="1.3"/>
<text x="350" y="244.61" font-size="9.6" font-weight="bold" text-anchor="end" fill="#000" >9</text>
<rect x="357.1" y="246.39" width="9" height="5.5" fill="#5b54fb"/>
<line x1="351.3" y1="249.14" x2="357.1" y2="249.14" stroke="#000" stroke-width="1.3"/>
<text x="350" y="252.64" font-size="9.6" font-weight="bold" text-anchor="end" fill="#000" >2</text>
<rect x="357.1" y="254.42" width="9.7" height="5.5" fill="#5b54fb"/>
<line x1="351.3" y1="257.17" x2="357.1" y2="257.17" stroke="#000" stroke-width="1.3"/>
<text x="350" y="260.67" font-size="9.6" font-weight="bold" text-anchor="end" fill="#000" >15</text>
<rect x="357.1" y="262.45" width="11.8" height="5.5" fill="#5b54fb"/>
<line x1="351.3" y1="265.2" x2="357.1" y2="265.2" stroke="#000" stroke-width="1.3"/>
<text x="350" y="268.7" font-size="9.6" font-weight="bold" text-anchor="end" fill="#000" >37</text>
<rect x="357.1" y="270.48" width="12.4" height="5.5" fill="#5b54fb"/>
<line x1="351.3" y1="273.23" x2="357.1" y2="273.23" stroke="#000" stroke-width="1.3"/>
<text x="350" y="276.73" font-size="9.6" font-weight="bold" text-anchor="end" fill="#000" >48</text>
<rect x="357.1" y="278.51" width="12.8" height="5.5" fill="#5b54fb"/>
<line x1="351.3" y1="281.26" x2="357.1" y2="281.26" stroke="#000" stroke-width="1.3"/>
<text x="350" y="284.76" font-size="9.6" font-weight="bold" text-anchor="end" fill="#000" >106</text>
<rect x="357.1" y="286.54" width="12.8" height="5.5" fill="#5b54fb"/>
<line x1="351.3" y1="289.29" x2="357.1" y2="289.29" stroke="#000" stroke-width="1.3"/>
<text x="350" y="292.79" font-size="9.6" font-weight="bold" text-anchor="end" fill="#000" >28</text>
<rect x="357.1" y="294.57" width="14.7" height="5.5" fill="#5b54fb"/>
<line x1="351.3" y1="297.32" x2="357.1" y2="297.32" stroke="#000" stroke-width="1.3"/>
<text x="350" y="300.82" font-size="9.6" font-weight="bold" text-anchor="end" fill="#000" >41</text>
<rect x="357.1" y="302.6" width="15.2" height="5.5" fill="#5b54fb"/>
<line x1="351.3" y1="305.35" x2="357.1" y2="305.35" stroke="#000" stroke-width="1.3"/>
<text x="350" y="308.85" font-size="9.6" font-weight="bold" text-anchor="end" fill="#000" >21</text>
<rect x="357.1" y="310.63" width="15.8" height="5.5" fill="#5b54fb"/>
<line x1="351.3" y1="313.38" x2="357.1" y2="313.38" stroke="#000" stroke-width="1.3"/>
<text x="350" y="316.88" font-size="9.6" font-weight="bold" text-anchor="end" fill="#000" >38</text>
<rect x="357.1" y="318.66" width="15.8" height="5.5" fill="#5b54fb"/>
<line x1="351.3" y1="321.41" x2="357.1" y2="321.41" stroke="#000" stroke-width="1.3"/>
<text x="350" y="324.91" font-size="9.6" font-weight="bold" text-anchor="end" fill="#000" >4</text>
<rect x="357.1" y="326.69" width="16.2" height="5.5" fill="#5b54fb"/>
<line x1="351.3" y1="329.44" x2="357.1" y2="329.44" stroke="#000" stroke-width="1.3"/>
<text x="350" y="332.94" font-size="9.6" font-weight="bold" text-anchor="end" fill="#000" >39</text>
<rect x="357.1" y="334.72" width="16.8" height="5.5" fill="#5b54fb"/>
<line x1="351.3" y1="337.47" x2="357.1" y2="337.47" stroke="#000" stroke-width="1.3"/>
<text x="350" y="340.97" font-size="9.6" font-weight="bold" text-anchor="end" fill="#000" >103</text>
<rect x="357.1" y="342.75" width="16.8" height="5.5" fill="#5b54fb"/>
<line x1="351.3" y1="345.5" x2="357.1" y2="345.5" stroke="#000" stroke-width="1.3"/>
<text x="350" y="349" font-size="9.6" font-weight="bold" text-anchor="end" fill="#000" >102</text>
<rect x="357.1" y="350.78" width="17.1" height="5.5" fill="#5b54fb"/>
<line x1="351.3" y1="353.53" x2="357.1" y2="353.53" stroke="#000" stroke-width="1.3"/>
<text x="350" y="357.03" font-size="9.6" font-weight="bold" text-anchor="end" fill="#000" >36</text>
<rect x="357.1" y="358.81" width="22" height="5.5" fill="#5b54fb"/>
<line x1="351.3" y1="361.56" x2="357.1" y2="361.56" stroke="#000" stroke-width="1.3"/>
<text x="350" y="365.06" font-size="9.6" font-weight="bold" text-anchor="end" fill="#000" >105</text>
<rect x="357.1" y="366.84" width="22.7" height="5.5" fill="#5b54fb"/>
<line x1="351.3" y1="369.59" x2="357.1" y2="369.59" stroke="#000" stroke-width="1.3"/>
<text x="350" y="373.09" font-size="9.6" font-weight="bold" text-anchor="end" fill="#000" >13</text>
<rect x="357.1" y="374.87" width="23" height="5.5" fill="#5b54fb"/>
<line x1="351.3" y1="377.62" x2="357.1" y2="377.62" stroke="#000" stroke-width="1.3"/>
<text x="350" y="381.12" font-size="9.6" font-weight="bold" text-anchor="end" fill="#000" >44</text>
<rect x="357.1" y="382.9" width="23.8" height="5.5" fill="#5b54fb"/>
<line x1="351.3" y1="385.65" x2="357.1" y2="385.65" stroke="#000" stroke-width="1.3"/>
<text x="350" y="389.15" font-size="9.6" font-weight="bold" text-anchor="end" fill="#000" >19</text>
<rect x="357.1" y="390.93" width="23.9" height="5.5" fill="#5b54fb"/>
<line x1="351.3" y1="393.68" x2="357.1" y2="393.68" stroke="#000" stroke-width="1.3"/>
<text x="350" y="397.18" font-size="9.6" font-weight="bold" text-anchor="end" fill="#000" >16</text>
<rect x="357.1" y="398.96" width="27" height="5.5" fill="#5b54fb"/>
<line x1="351.3" y1="401.71" x2="357.1" y2="401.71" stroke="#000" stroke-width="1.3"/>
<text x="350" y="405.21" font-size="9.6" font-weight="bold" text-anchor="end" fill="#000" >12</text>
<rect x="357.1" y="406.99" width="39.9" height="5.5" fill="#5b54fb"/>
<line x1="351.3" y1="409.74" x2="357.1" y2="409.74" stroke="#000" stroke-width="1.3"/>
<text x="350" y="413.24" font-size="9.6" font-weight="bold" text-anchor="end" fill="#000" >101</text>
<rect x="357.1" y="415.02" width="41.9" height="5.5" fill="#5b54fb"/>
<line x1="351.3" y1="417.77" x2="357.1" y2="417.77" stroke="#000" stroke-width="1.3"/>
<text x="350" y="421.27" font-size="9.6" font-weight="bold" text-anchor="end" fill="#000" >104</text>
<rect x="357.1" y="423.05" width="69.9" height="5.5" fill="#5b54fb"/>
<line x1="351.3" y1="425.8" x2="357.1" y2="425.8" stroke="#000" stroke-width="1.3"/>
<text x="350" y="429.3" font-size="9.6" font-weight="bold" text-anchor="end" fill="#000" >49</text>
<rect x="357.1" y="431.08" width="89.6" height="5.5" fill="#5b54fb"/>
<line x1="351.3" y1="433.83" x2="357.1" y2="433.83" stroke="#000" stroke-width="1.3"/>
<text x="350" y="437.33" font-size="9.6" font-weight="bold" text-anchor="end" fill="#000" >40</text>
<rect x="357.1" y="439.11" width="108.9" height="5.5" fill="#5b54fb"/>
<line x1="351.3" y1="441.86" x2="357.1" y2="441.86" stroke="#000" stroke-width="1.3"/>
<text x="350" y="445.36" font-size="9.6" font-weight="bold" text-anchor="end" fill="#000" >108</text>
<rect x="357.1" y="447.14" width="134.7" height="5.5" fill="#5b54fb"/>
<line x1="351.3" y1="449.89" x2="357.1" y2="449.89" stroke="#000" stroke-width="1.3"/>
<text x="350" y="453.39" font-size="9.6" font-weight="bold" text-anchor="end" fill="#000" >42</text>
<rect x="357.1" y="455.17" width="144.5" height="5.5" fill="#5b54fb"/>
<line x1="351.3" y1="457.92" x2="357.1" y2="457.92" stroke="#000" stroke-width="1.3"/>
<text x="350" y="461.42" font-size="9.6" font-weight="bold" text-anchor="end" fill="#000" >109</text>
<rect x="357.1" y="463.2" width="259.6" height="5.5" fill="#5b54fb"/>
<line x1="351.3" y1="465.95" x2="357.1" y2="465.95" stroke="#000" stroke-width="1.3"/>
<text x="350" y="469.45" font-size="9.6" font-weight="bold" text-anchor="end" fill="#000" >107</text>
<rect x="357.1" y="471.23" width="280.7" height="5.5" fill="#5b54fb"/>
<line x1="351.3" y1="473.98" x2="357.1" y2="473.98" stroke="#000" stroke-width="1.3"/>
<text x="350" y="477.48" font-size="9.6" font-weight="bold" text-anchor="end" fill="#000" >52</text>
<line x1="357.1" y1="17.6" x2="357.1" y2="480" stroke="#000" stroke-width="1.6"/>
<line x1="356.3" y1="293.2" x2="664.2" y2="293.2" stroke="#000" stroke-width="1.7"/>
<line x1="356.3" y1="479.3" x2="672" y2="479.3" stroke="#000" stroke-width="1.8"/>
<line x1="357.1" y1="479.3" x2="357.1" y2="485" stroke="#000" stroke-width="1.5"/>
<text x="357.1" y="495.1" font-size="9.7" font-weight="bold" text-anchor="middle" fill="#000" >0</text>
<line x1="418.4" y1="479.3" x2="418.4" y2="485" stroke="#000" stroke-width="1.5"/>
<text x="418.4" y="495.1" font-size="9.7" font-weight="bold" text-anchor="middle" fill="#000" >10</text>
<line x1="479.7" y1="479.3" x2="479.7" y2="485" stroke="#000" stroke-width="1.5"/>
<text x="479.7" y="495.1" font-size="9.7" font-weight="bold" text-anchor="middle" fill="#000" >20</text>
<line x1="541" y1="479.3" x2="541" y2="485" stroke="#000" stroke-width="1.5"/>
<text x="541" y="495.1" font-size="9.7" font-weight="bold" text-anchor="middle" fill="#000" >30</text>
<line x1="602.3" y1="479.3" x2="602.3" y2="485" stroke="#000" stroke-width="1.5"/>
<text x="602.3" y="495.1" font-size="9.7" font-weight="bold" text-anchor="middle" fill="#000" >40</text>
<line x1="663.6" y1="479.3" x2="663.6" y2="485" stroke="#000" stroke-width="1.5"/>
<text x="663.6" y="495.1" font-size="9.7" font-weight="bold" text-anchor="middle" fill="#000" >50</text>
<text x="414" y="512.6" font-size="21.5" font-weight="normal" text-anchor="start" fill="#000" >Amplification Factor</text>
<text x="0" y="0" font-size="22" font-weight="normal" text-anchor="start" fill="#000" transform="translate(321.4,304.8) rotate(-90)">Peptide ID</text>
<path d="M664,19.7 H670.9 V290.9 H664" fill="none" stroke="#000" stroke-width="1.7"/>
<path d="M664,294.2 H670.9 V479.3" fill="none" stroke="#000" stroke-width="1.7"/>
<text x="0" y="0" font-size="10.8" font-weight="bold" text-anchor="middle" fill="#000" transform="translate(676.1,154.8) rotate(90)">Decreased</text>
<text x="0" y="0" font-size="10.8" font-weight="bold" text-anchor="middle" fill="#000" transform="translate(676.1,386.9) rotate(90)">Increased</text>
<text x="0" y="0" font-size="10.7" font-weight="bold" text-anchor="middle" fill="#000" transform="translate(649.9,385.5) rotate(90)">Secondary Screen</text>
<text x="663.6" y="205.6" font-size="10.7" font-weight="bold" text-anchor="end" fill="#000" >Parent Peptide</text>
<line x1="641.7" y1="305" x2="641.7" y2="466" stroke="#000" stroke-width="1.8"/>
<path d="M641.7,299 L637.9,309 L645.5,309Z" fill="#000"/>
<path d="M641.7,472.8 L637.9,463 L645.5,463Z" fill="#000"/>
</g>
<g id="panelC">
<ellipse cx="90.1" cy="541.9" rx="5" ry="2.2" fill="#6ef0f0"/>
<ellipse cx="95.5" cy="542" rx="2" ry="1.2" fill="#111"/>
<ellipse cx="133.9" cy="544.4" rx="2.2" ry="1.1" fill="#111"/>
<ellipse cx="70.8" cy="587.8" rx="5" ry="2.2" fill="#6ef0f0"/>
<ellipse cx="73.5" cy="588" rx="3" ry="1.2" fill="#111"/>
<ellipse cx="77.8" cy="589.5" rx="1.8" ry="1.4" fill="none" stroke="#222" stroke-width="0.8"/>
<ellipse cx="98.3" cy="588.2" rx="2.6" ry="1.1" fill="#111"/>
<ellipse cx="80.4" cy="600.1" rx="3.2" ry="1.8" fill="#6ef0f0"/>
<ellipse cx="81.5" cy="600.3" rx="1.8" ry="1" fill="none" stroke="#222" stroke-width="0.8"/>
<ellipse cx="74.3" cy="614.1" rx="2.5" ry="1.5" fill="#6ef0f0"/>
<ellipse cx="76.2" cy="615" rx="2" ry="1" fill="#111"/>
<ellipse cx="99.7" cy="620.6" rx="3" ry="1.6" fill="#6ef0f0"/>
<ellipse cx="100.8" cy="620.2" rx="2" ry="1" fill="#111"/>
<ellipse cx="91.8" cy="628.1" rx="3" ry="1.4" fill="#6ef0f0"/>
<ellipse cx="89.5" cy="628.1" rx="2" ry="1" fill="#111"/>
<ellipse cx="113" cy="625" rx="0.6" ry="0.6" fill="#111"/>
<ellipse cx="114" cy="630" rx="1" ry="0.8" fill="#6ef0f0"/>
<ellipse cx="99" cy="634.6" rx="1" ry="0.8" fill="#111"/>
<ellipse cx="137" cy="636" rx="2" ry="1.1" fill="#111"/>
<ellipse cx="121.6" cy="636.9" rx="1.6" ry="1.2" fill="#6ef0f0"/>
<ellipse cx="118" cy="640.4" rx="1.4" ry="1.1" fill="none" stroke="#222" stroke-width="0.8"/>
<ellipse cx="185.9" cy="539.6" rx="1" ry="1" fill="#6ef0f0"/>
<ellipse cx="186.4" cy="544.9" rx="3.5" ry="1.8" fill="#6ef0f0"/>
<ellipse cx="191.5" cy="544.4" rx="3" ry="1.2" fill="#111"/>
<ellipse cx="175.9" cy="550.2" rx="4" ry="2" fill="#6ef0f0"/>
<ellipse cx="179.5" cy="550.5" rx="2" ry="1" fill="#111"/>
<ellipse cx="174.5" cy="559.3" rx="3.5" ry="2" fill="#6ef0f0"/>
<ellipse cx="183.4" cy="562.4" rx="3.5" ry="1.3" fill="#111"/>
<ellipse cx="188" cy="563" rx="1.5" ry="1" fill="#6ef0f0"/>
<ellipse cx="176.8" cy="565.9" rx="3.5" ry="2" fill="#6ef0f0"/>
<ellipse cx="164.5" cy="571.2" rx="9" ry="5" fill="#6ef0f0"/>
<ellipse cx="160" cy="574" rx="4" ry="2.5" fill="#6ef0f0"/>
<ellipse cx="171.5" cy="573" rx="2" ry="1" fill="#111"/>
<ellipse cx="163" cy="568" rx="1.5" ry="1" fill="#111"/>
<ellipse cx="249.5" cy="544.4" rx="4.5" ry="1.6" fill="#6ef0f0"/>
<ellipse cx="251.5" cy="543.8" rx="2.5" ry="1" fill="#111"/>
<ellipse cx="253" cy="549.6" rx="3.5" ry="1.6" fill="#6ef0f0"/>
<ellipse cx="256" cy="549.6" rx="1.8" ry="1" fill="#111"/>
<ellipse cx="236" cy="558.9" rx="4" ry="2" fill="#6ef0f0"/>
<ellipse cx="239" cy="562.4" rx="2" ry="1" fill="#111"/>
<ellipse cx="234.6" cy="570.3" rx="8" ry="6" fill="#6ef0f0"/>
<ellipse cx="228" cy="572.3" rx="4" ry="2.5" fill="#6ef0f0"/>
<ellipse cx="231" cy="568.2" rx="2" ry="1" fill="#111"/>
<ellipse cx="243" cy="568" rx="1.8" ry="1.2" fill="#111"/>
<ellipse cx="244" cy="573.6" rx="1.8" ry="1.2" fill="#111"/>
<ellipse cx="240" cy="576" rx="2" ry="1" fill="#6ef0f0"/>
<ellipse cx="238.1" cy="587.8" rx="1.2" ry="1" fill="#6ef0f0"/>
<ellipse cx="239" cy="595.2" rx="3.5" ry="1.6" fill="#6ef0f0"/>
<ellipse cx="240.5" cy="595.4" rx="2" ry="0.9" fill="#111"/>
<ellipse cx="140.9" cy="592.7" rx="1.5" ry="1" fill="#111"/>
<ellipse cx="147.9" cy="594.5" rx="3.5" ry="1.5" fill="#6ef0f0"/>
<ellipse cx="145" cy="595.5" rx="2" ry="0.9" fill="#111"/>
<ellipse cx="174.5" cy="598.7" rx="2.4" ry="1.1" fill="#111"/>
<ellipse cx="186.4" cy="616.7" rx="1.6" ry="1" fill="#6ef0f0"/>
<ellipse cx="169.8" cy="618.8" rx="2" ry="1.1" fill="#111"/>
<ellipse cx="145.6" cy="629.3" rx="1.5" ry="0.8" fill="#111"/>
<ellipse cx="155.4" cy="633" rx="2.2" ry="1.3" fill="#6ef0f0"/>
<ellipse cx="153.5" cy="632.8" rx="1.5" ry="0.8" fill="#111"/>
<ellipse cx="34.9" cy="649.1" rx="1" ry="0.8" fill="#111"/>
<ellipse cx="89.2" cy="654.9" rx="4" ry="2" fill="#6ef0f0"/>
<ellipse cx="93" cy="655.2" rx="1.5" ry="1" fill="#111"/>
<ellipse cx="76" cy="659.6" rx="2.5" ry="1.5" fill="none" stroke="#222" stroke-width="0.8"/>
<ellipse cx="77.8" cy="661" rx="4" ry="2" fill="#6ef0f0"/>
<ellipse cx="70.8" cy="663.1" rx="4" ry="2" fill="#6ef0f0"/>
<ellipse cx="90" cy="661.9" rx="5" ry="3" fill="#6ef0f0"/>
<ellipse cx="84.8" cy="667.2" rx="6" ry="3" fill="#6ef0f0"/>
<ellipse cx="76" cy="667.2" rx="3.5" ry="2" fill="#6ef0f0"/>
<ellipse cx="69" cy="671.5" rx="4" ry="2" fill="#6ef0f0"/>
<ellipse cx="55" cy="672.4" rx="3.5" ry="2" fill="#6ef0f0"/>
<ellipse cx="55" cy="676" rx="3" ry="1.6" fill="#6ef0f0"/>
<ellipse cx="70.8" cy="675" rx="3.5" ry="2" fill="#6ef0f0"/>
<ellipse cx="78.7" cy="677.1" rx="3.5" ry="2" fill="#6ef0f0"/>
<ellipse cx="64.7" cy="680" rx="4" ry="2" fill="#6ef0f0"/>
<ellipse cx="78.7" cy="681.7" rx="4" ry="2" fill="#6ef0f0"/>
<ellipse cx="82" cy="682" rx="1.5" ry="1" fill="#111"/>
<ellipse cx="67.7" cy="686.4" rx="0.8" ry="0.8" fill="#111"/>
<ellipse cx="101.5" cy="658.4" rx="4" ry="2" fill="#6ef0f0"/>
<ellipse cx="106.7" cy="675" rx="4" ry="2" fill="#6ef0f0"/>
<ellipse cx="110" cy="675.5" rx="1.5" ry="1" fill="#111"/>
<ellipse cx="118.1" cy="670.1" rx="3.5" ry="1.6" fill="#6ef0f0"/>
<ellipse cx="120.7" cy="660.7" rx="3" ry="1.6" fill="#6ef0f0"/>
<ellipse cx="121.6" cy="645.3" rx="3" ry="1.5" fill="#6ef0f0"/>
<ellipse cx="121.6" cy="651.9" rx="3" ry="1.5" fill="#6ef0f0"/>
<ellipse cx="122.4" cy="644.6" rx="5" ry="2" fill="#6ef0f0"/>
<ellipse cx="121" cy="651.2" rx="4.5" ry="2" fill="#6ef0f0"/>
<ellipse cx="134.2" cy="647.2" rx="2.5" ry="1.5" fill="#6ef0f0"/>
<ellipse cx="121" cy="661" rx="3" ry="1.5" fill="#6ef0f0"/>
<ellipse cx="102" cy="658.5" rx="2.5" ry="3" fill="#6ef0f0"/>
<ellipse cx="131" cy="650" rx="6.5" ry="3.4" fill="#151515" transform="rotate(25 131 650)"/>
<ellipse cx="129.5" cy="649.5" rx="1.95" ry="1.02" fill="#fff" transform="rotate(25 131 650)"/>
<ellipse cx="133" cy="650.8" rx="1.62" ry="0.85" fill="#fff" transform="rotate(25 131 650)"/>
<ellipse cx="140.1" cy="649.2" rx="2" ry="1.5" fill="none" stroke="#111" stroke-width="1.1"/>
<ellipse cx="130.5" cy="662" rx="4.5" ry="3.6" fill="#151515" transform="rotate(25 130.5 662)"/>
<ellipse cx="129" cy="661.5" rx="1.35" ry="1.08" fill="#fff" transform="rotate(25 130.5 662)"/>
<ellipse cx="132.5" cy="662.8" rx="1.12" ry="0.9" fill="#fff" transform="rotate(25 130.5 662)"/>
<ellipse cx="103.3" cy="649.9" rx="1.8" ry="1.1" fill="none" stroke="#111" stroke-width="1.1"/>
<ellipse cx="109.9" cy="654.1" rx="2.2" ry="1.2" fill="none" stroke="#111" stroke-width="1.1"/>
<ellipse cx="115.1" cy="647.9" rx="2.2" ry="1.1" fill="none" stroke="#111" stroke-width="1.1"/>
<ellipse cx="107.9" cy="660.4" rx="2.2" ry="1.6" fill="none" stroke="#111" stroke-width="1.1"/>
<ellipse cx="118.4" cy="640.7" rx="1.5" ry="1.2" fill="none" stroke="#111" stroke-width="1.1"/>
<ellipse cx="78.7" cy="709.7" rx="4" ry="2.5" fill="#6ef0f0"/>
<ellipse cx="82" cy="710.5" rx="1.5" ry="1" fill="#111"/>
<ellipse cx="98.8" cy="694" rx="0.5" ry="0.5" fill="#111"/>
<ellipse cx="96.2" cy="700.4" rx="0.6" ry="0.6" fill="#6ef0f0"/>
<ellipse cx="108.5" cy="733.2" rx="4" ry="2" fill="#6ef0f0"/>
<ellipse cx="111.5" cy="733.5" rx="1.5" ry="1" fill="#111"/>
<ellipse cx="116" cy="736" rx="1.2" ry="1" fill="#6ef0f0"/>
<ellipse cx="140.9" cy="649.6" rx="1.5" ry="1" fill="#111"/>
<ellipse cx="178.2" cy="649.6" rx="2.2" ry="0.9" fill="#111"/>
<ellipse cx="211.8" cy="645.3" rx="2" ry="0.9" fill="#111"/>
<ellipse cx="196.4" cy="657" rx="1.6" ry="0.9" fill="#111"/>
<ellipse cx="210.1" cy="658" rx="3" ry="1.2" fill="#111"/>
<ellipse cx="186.4" cy="663.1" rx="1.5" ry="0.9" fill="#111"/>
<ellipse cx="238.1" cy="663.1" rx="0.8" ry="0.7" fill="#6ef0f0"/>
<ellipse cx="159.6" cy="680" rx="3" ry="1.4" fill="#6ef0f0"/>
<ellipse cx="162" cy="680.8" rx="2" ry="1" fill="#111"/>
<ellipse cx="185.9" cy="694" rx="3" ry="1.5" fill="#6ef0f0"/>
<ellipse cx="185.9" cy="694.3" rx="2.5" ry="1.2" fill="none" stroke="#222" stroke-width="0.8"/>
<ellipse cx="147.9" cy="711.8" rx="3" ry="2" fill="#6ef0f0"/>
<ellipse cx="152.6" cy="712" rx="1.5" ry="0.8" fill="#111"/>
<ellipse cx="30" cy="580" rx="0.4" ry="0.4" fill="#111"/>
<ellipse cx="40.5" cy="637.6" rx="0.5" ry="0.5" fill="#6ef0f0"/>
<rect x="20.9" y="745.9" width="172.3" height="17.6" fill="#cbcbcb"/>
<text x="25.8" y="761.3" font-size="18.4" fill="#000" word-spacing="1.2">EB3 <tspan font-style="italic">vs</tspan> <tspan fill="#72eeee">EB3 + 109</tspan></text>
<path d="M19.0,764.5 V523.1 H261.0 V764.5 Z" fill="none" stroke="#000" stroke-width="1.6"/>
<line x1="19.3" y1="764.5" x2="19.3" y2="768.0" stroke="#000" stroke-width="1.2"/>
<text x="21.8" y="777.6" font-size="10.6" font-weight="bold" text-anchor="middle" fill="#000" >9.0</text>
<line x1="113.75" y1="764.5" x2="113.75" y2="768.0" stroke="#000" stroke-width="1.2"/>
<text x="114.6" y="777.6" font-size="10.6" font-weight="bold" text-anchor="middle" fill="#000" >8.0</text>
<line x1="208.2" y1="764.5" x2="208.2" y2="768.0" stroke="#000" stroke-width="1.2"/>
<text x="208.4" y="777.6" font-size="10.6" font-weight="bold" text-anchor="middle" fill="#000" >7.0</text>
<line x1="261.0" y1="543.6" x2="265.5" y2="543.6" stroke="#000" stroke-width="1.2"/>
<text x="266" y="547.3" font-size="10.5" font-weight="bold" text-anchor="start" fill="#000" >110</text>
<line x1="261.0" y1="653.4" x2="265.5" y2="653.4" stroke="#000" stroke-width="1.2"/>
<text x="266" y="657.1" font-size="10.5" font-weight="bold" text-anchor="start" fill="#000" >120</text>
<line x1="261.0" y1="763.2" x2="265.5" y2="763.2" stroke="#000" stroke-width="1.2"/>
<text x="266" y="766.9" font-size="10.5" font-weight="bold" text-anchor="start" fill="#000" >130</text>
<text x="98.7" y="794.4" font-size="14" font-weight="normal" text-anchor="start" fill="#000" >1</text>
<text x="107" y="800.5" font-size="21.5" font-weight="normal" text-anchor="start" fill="#000" >H, [ppm]</text>
<g transform="translate(297.2,597.2) rotate(90)"><text x="0" y="-6" font-size="13.5">15</text><text x="17" y="0" font-size="21.3">N, [ppm]</text></g>
</g>
<g id="panelD">
<path d="M396,655 C394,645 404,640 416,642 C424,632 432,626 442,628 C446,618 462,611 478,614 C494,614 508,622 511,636 C514,650 508,664 500,672 C496,684 488,694 476,700 C472,710 456,717 440,716 C424,716 412,708 410,698 C402,692 400,684 404,676 C396,670 394,662 396,655Z" fill="#f9f4ea" stroke="#e6d3b2" stroke-width="1.2"/>
<path d="M398,656 C402,648 414,646 424,650 C434,656 436,668 428,674 C418,678 404,672 400,666Z" fill="#f0e2c8" opacity="0.6"/>
<path d="M446,670 C462,664 482,670 484,684 C486,698 472,704 458,702 C446,700 440,690 442,680Z" fill="#f2e2ee" opacity="0.9"/>
<path d="M371,561 C371.5,560.33 372.67,557.17 374,557 C375.33,556.83 378,558.83 379,560 C380,561.17 379.83,563.33 380,564" fill="none" stroke="#5e7cb4" stroke-width="4.2" stroke-linecap="round" stroke-linejoin="round"/>
<path d="M371,561 C371.5,560.33 372.67,557.17 374,557 C375.33,556.83 378,558.83 379,560 C380,561.17 379.83,563.33 380,564" fill="none" stroke="#9dbbea" stroke-width="3.2" stroke-linecap="round" stroke-linejoin="round"/>
<polygon points="387.15,576.4 387.9,576.75 388.87,576.6 389.79,576.2 390.7,575.63 391.61,574.93 392.52,574.15 393.43,573.34 394.33,572.54 395.21,571.81 396.05,571.19 396.82,570.71 397.5,570.39 398.1,570.2 398.81,569.99 398.99,568.61 398.08,568.19 396.96,568.23 395.84,568.56 394.75,569.09 393.69,569.77 392.68,570.56 391.71,571.39 390.79,572.22 389.95,573 389.19,573.67 388.55,574.19 388.04,574.54 387.69,574.75 387.25,575" fill="#7898d0" stroke="#5e7cb4" stroke-width="0.5" stroke-linejoin="round"/>
<polygon points="409.27,585.69 410.07,586.13 411.13,586 412.08,585.52 412.92,584.82 413.71,583.98 414.47,583.06 415.21,582.11 415.94,581.2 416.64,580.38 417.31,579.71 417.92,579.23 418.45,578.94 418.96,578.79 419.73,578.68 420.07,577.32 419.13,576.79 417.94,576.78 416.8,577.14 415.77,577.78 414.83,578.59 413.96,579.52 413.17,580.5 412.43,581.47 411.76,582.35 411.15,583.09 410.64,583.63 410.27,583.95 410.03,584.12 409.53,584.31" fill="#7898d0" stroke="#5e7cb4" stroke-width="0.5" stroke-linejoin="round"/>
<polygon points="430.2,596.17 430.96,596.69 432.04,596.62 432.99,596.14 433.8,595.44 434.54,594.6 435.24,593.67 435.91,592.72 436.58,591.81 437.21,591.01 437.81,590.38 438.34,589.95 438.78,589.71 439.21,589.6 439.97,589.56 440.43,588.24 439.55,587.62 438.38,587.52 437.24,587.85 436.23,588.47 435.34,589.29 434.54,590.22 433.81,591.2 433.13,592.17 432.52,593.05 431.98,593.77 431.53,594.27 431.24,594.54 431.09,594.68 430.6,594.83" fill="#7898d0" stroke="#5e7cb4" stroke-width="0.5" stroke-linejoin="round"/>
<polygon points="379.68,564.73 379.81,565.88 379.92,566.43 380.12,567.05 380.38,567.81 380.7,568.73 381.05,569.79 381.44,570.92 381.87,572.09 382.36,573.26 382.92,574.37 383.6,575.39 384.46,576.27 385.57,576.88 386.84,576.41 387.56,574.99 387.75,573.97 387.88,573.59 387.84,573.07 387.68,572.32 387.43,571.37 387.12,570.26 386.72,569.05 386.24,567.78 385.64,566.52 384.92,565.32 384.04,564.23 382.97,563.34 381.7,562.78 380.32,563.27" fill="#9dbbea" stroke="#5e7cb4" stroke-width="0.5" stroke-linejoin="round"/>
<polygon points="379.96,564.09 380.49,564.76 380.99,565.35 381.48,566.07 381.94,566.96 382.39,567.98 382.82,569.1 383.24,570.28 383.66,571.47 384.09,572.61 384.55,573.67 385.07,574.59 385.66,575.33 386.36,575.83 387.15,575.79 387.25,575.61 386.96,575.02 386.68,574.53 386.37,573.87 386.05,573.02 385.7,572.01 385.33,570.89 384.93,569.69 384.47,568.47 383.96,567.28 383.37,566.18 382.68,565.21 381.9,564.42 381.02,563.9 380.04,563.91" fill="#c8dcf8" opacity="0.5"/>
<polygon points="398.5,569.99 398.67,571.25 399.02,572.05 399.49,573.02 400.05,574.19 400.68,575.53 401.36,577 402.08,578.55 402.84,580.1 403.64,581.6 404.48,583 405.39,584.24 406.4,585.26 407.58,585.98 408.97,585.68 409.83,584.32 409.93,583.2 409.8,582.54 409.48,581.66 409.04,580.54 408.5,579.21 407.86,577.72 407.14,576.14 406.34,574.52 405.45,572.95 404.47,571.47 403.39,570.16 402.18,569.08 400.84,568.34 399.3,568.61" fill="#9dbbea" stroke="#5e7cb4" stroke-width="0.5" stroke-linejoin="round"/>
<polygon points="398.85,569.39 399.45,570.2 400.13,571.01 400.84,572.03 401.57,573.25 402.31,574.65 403.06,576.16 403.8,577.73 404.55,579.29 405.3,580.79 406.05,582.16 406.81,583.34 407.6,584.3 408.43,584.97 409.35,585.08 409.45,584.92 409.08,584.2 408.61,583.5 408.07,582.55 407.48,581.38 406.84,580.03 406.15,578.53 405.42,576.96 404.64,575.37 403.82,573.83 402.95,572.4 402.04,571.15 401.07,570.12 400.05,569.39 398.95,569.21" fill="#c8dcf8" opacity="0.5"/>
<polygon points="419.43,578.65 419.52,579.95 419.87,580.85 420.36,581.95 420.95,583.27 421.59,584.77 422.29,586.41 423.03,588.12 423.8,589.83 424.61,591.48 425.46,593.01 426.36,594.36 427.35,595.48 428.49,596.3 429.91,596.13 430.89,594.87 431.05,593.73 430.9,592.97 430.56,591.97 430.1,590.71 429.54,589.23 428.89,587.59 428.15,585.86 427.34,584.09 426.45,582.37 425.47,580.75 424.41,579.31 423.24,578.1 421.94,577.24 420.37,577.35" fill="#9dbbea" stroke="#5e7cb4" stroke-width="0.5" stroke-linejoin="round"/>
<polygon points="419.84,578.08 420.39,578.97 421.06,579.89 421.77,581.04 422.5,582.41 423.25,583.95 424.01,585.62 424.77,587.35 425.53,589.07 426.29,590.71 427.05,592.22 427.81,593.53 428.6,594.6 429.41,595.37 430.34,595.58 430.46,595.42 430.13,594.65 429.65,593.85 429.11,592.8 428.51,591.5 427.85,590 427.16,588.35 426.41,586.62 425.62,584.88 424.79,583.19 423.92,581.62 423.01,580.22 422.06,579.07 421.06,578.22 419.96,577.92" fill="#c8dcf8" opacity="0.5"/>
<path d="M440.2,588.9 C441.5,589 445.45,589.25 448,589.5 C450.55,589.75 452.72,589.57 455.5,590.4 C458.28,591.23 461.62,592.97 464.7,594.5 C467.78,596.03 470.95,598.75 474,599.6 C477.05,600.45 480.63,600.37 483,599.6 C485.37,598.83 488.87,596.02 488.2,595 C487.53,593.98 482.23,594.5 479,593.5 C475.77,592.5 471,589.33 468.8,589 C466.6,588.67 465.12,589.55 465.8,591.5 C466.48,593.45 472.73,598.15 472.9,600.7 C473.07,603.25 465.62,605.95 466.8,606.8 C467.98,607.65 478.8,604.78 480,605.8 C481.2,606.82 474,610.7 474,612.9 C474,615.1 479.33,617.3 480,619 C480.67,620.7 479.87,622.23 478,623.1 C476.13,623.97 471.02,623.52 468.8,624.2 C466.58,624.88 465.38,626.7 464.7,627.2" fill="none" stroke="#5e7cb4" stroke-width="3.6" stroke-linecap="round" stroke-linejoin="round"/>
<path d="M440.2,588.9 C441.5,589 445.45,589.25 448,589.5 C450.55,589.75 452.72,589.57 455.5,590.4 C458.28,591.23 461.62,592.97 464.7,594.5 C467.78,596.03 470.95,598.75 474,599.6 C477.05,600.45 480.63,600.37 483,599.6 C485.37,598.83 488.87,596.02 488.2,595 C487.53,593.98 482.23,594.5 479,593.5 C475.77,592.5 471,589.33 468.8,589 C466.6,588.67 465.12,589.55 465.8,591.5 C466.48,593.45 472.73,598.15 472.9,600.7 C473.07,603.25 465.62,605.95 466.8,606.8 C467.98,607.65 478.8,604.78 480,605.8 C481.2,606.82 474,610.7 474,612.9 C474,615.1 479.33,617.3 480,619 C480.67,620.7 479.87,622.23 478,623.1 C476.13,623.97 471.02,623.52 468.8,624.2 C466.58,624.88 465.38,626.7 464.7,627.2" fill="none" stroke="#9dbbea" stroke-width="2.6" stroke-linecap="round" stroke-linejoin="round"/>
<path d="M385,581 C384.5,582.17 382.5,586.83 382,588" fill="none" stroke="#5e7cb4" stroke-width="3.08" stroke-linecap="round" stroke-linejoin="round"/>
<path d="M385,581 C384.5,582.17 382.5,586.83 382,588" fill="none" stroke="#7898d0" stroke-width="2.08" stroke-linecap="round" stroke-linejoin="round"/>
<polygon points="397.38,592.32 397.31,592.8 397.21,593.08 397.03,593.55 396.7,594.21 396.24,595.02 395.67,595.95 395.06,596.96 394.46,598.03 393.92,599.14 393.51,600.27 393.28,601.43 393.3,602.58 393.65,603.66 394.4,604.35 395.6,603.65 395.52,602.92 395.51,602.4 395.62,601.79 395.86,601.04 396.24,600.19 396.74,599.25 397.31,598.27 397.9,597.26 398.46,596.26 398.94,595.26 399.29,594.27 399.43,593.27 399.24,592.27 398.62,591.68" fill="#7898d0" stroke="#5e7cb4" stroke-width="0.5" stroke-linejoin="round"/>
<polygon points="410.35,612.27 410.2,612.63 410.09,612.6 409.92,612.73 409.54,613.05 408.96,613.48 408.24,613.98 407.45,614.54 406.64,615.16 405.87,615.86 405.2,616.64 404.71,617.55 404.5,618.58 404.71,619.62 405.37,620.31 406.63,619.69 406.64,619.05 406.72,618.78 406.87,618.51 407.17,618.14 407.64,617.69 408.26,617.18 408.99,616.63 409.76,616.07 410.52,615.49 411.21,614.87 411.8,614.18 412.19,613.33 412.19,612.33 411.65,611.73" fill="#7898d0" stroke="#5e7cb4" stroke-width="0.5" stroke-linejoin="round"/>
<polygon points="419.44,626.41 419.5,627 419.52,627.36 419.5,627.75 419.42,628.24 419.28,628.84 419.1,629.55 418.89,630.34 418.71,631.2 418.59,632.12 418.58,633.08 418.72,634.06 419.07,635.01 419.62,635.86 420.45,636.43 421.55,635.57 421.32,634.78 421.14,634.19 421.05,633.62 421.05,633.03 421.12,632.38 421.25,631.68 421.42,630.93 421.61,630.15 421.78,629.35 421.88,628.51 421.87,627.66 421.68,626.81 421.26,626.03 420.56,625.59" fill="#7898d0" stroke="#5e7cb4" stroke-width="0.5" stroke-linejoin="round"/>
<polygon points="433.41,641.38 433.5,642.06 433.59,642.61 433.63,643.26 433.62,644.04 433.56,644.94 433.47,645.94 433.38,647.03 433.32,648.16 433.32,649.33 433.41,650.5 433.63,651.64 434.02,652.73 434.59,653.72 435.42,654.4 436.58,653.6 436.34,652.72 436.11,651.97 435.95,651.15 435.87,650.26 435.86,649.29 435.9,648.27 435.98,647.21 436.05,646.13 436.1,645.06 436.09,644.01 435.98,642.99 435.73,642.03 435.29,641.16 434.59,640.62" fill="#7898d0" stroke="#5e7cb4" stroke-width="0.5" stroke-linejoin="round"/>
<polygon points="381.46,588.59 381.62,590.04 382.65,591.02 383.94,591.75 385.38,592.28 386.92,592.66 388.51,592.92 390.09,593.08 391.62,593.17 393.02,593.23 394.26,593.25 395.28,593.25 396.04,593.21 396.56,593.07 397.48,592.61 398.52,591.39 398.41,590.06 397.43,589.24 396.25,588.68 394.94,588.29 393.52,588.02 392.04,587.83 390.54,587.7 389.06,587.59 387.67,587.49 386.4,587.39 385.31,587.29 384.42,587.2 383.69,587.18 382.54,587.41" fill="#9dbbea" stroke="#5e7cb4" stroke-width="0.5" stroke-linejoin="round"/>
<polygon points="381.93,588.07 382.37,589 383.27,589.68 384.42,590.21 385.73,590.6 387.18,590.9 388.7,591.1 390.24,591.25 391.76,591.36 393.19,591.45 394.5,591.55 395.62,591.67 396.53,591.81 397.23,591.98 397.94,592.08 398.06,591.92 397.74,591.15 396.94,590.63 395.92,590.26 394.71,589.99 393.35,589.8 391.9,589.65 390.39,589.53 388.87,589.4 387.41,589.25 386.05,589.07 384.84,588.83 383.8,588.55 382.94,588.21 382.07,587.93" fill="#c8dcf8" opacity="0.5"/>
<polygon points="394.4,604.53 394.39,605.96 395.24,607.06 396.38,608.02 397.71,608.87 399.19,609.64 400.76,610.33 402.36,610.95 403.92,611.49 405.4,611.96 406.73,612.35 407.87,612.66 408.76,612.86 409.42,612.89 410.42,612.55 411.58,611.45 411.65,610.15 410.87,609.22 409.84,608.43 408.61,607.72 407.24,607.07 405.75,606.46 404.21,605.88 402.67,605.33 401.19,604.82 399.83,604.34 398.63,603.92 397.62,603.58 396.79,603.37 395.6,603.47" fill="#9dbbea" stroke="#5e7cb4" stroke-width="0.5" stroke-linejoin="round"/>
<polygon points="394.93,604.07 395.26,605.02 396.08,605.84 397.15,606.6 398.44,607.32 399.87,607.99 401.41,608.63 402.99,609.22 404.55,609.78 406.03,610.29 407.38,610.76 408.55,611.19 409.5,611.58 410.23,611.9 410.93,612.07 411.07,611.93 410.85,611.14 410.13,610.5 409.16,609.89 407.97,609.31 406.61,608.74 405.13,608.17 403.58,607.6 402.02,607.03 400.51,606.46 399.1,605.9 397.85,605.34 396.78,604.81 395.92,604.3 395.07,603.93" fill="#c8dcf8" opacity="0.5"/>
<polygon points="405.46,620.59 405.61,622.02 406.46,623.01 407.53,623.83 408.73,624.52 410,625.1 411.31,625.57 412.62,625.97 413.88,626.29 415.06,626.55 416.12,626.75 417.03,626.9 417.79,626.99 418.44,626.97 419.48,626.61 420.52,625.39 420.48,624.1 419.72,623.24 418.76,622.56 417.68,622 416.52,621.53 415.3,621.12 414.06,620.76 412.84,620.44 411.65,620.14 410.54,619.86 409.53,619.61 408.62,619.39 407.78,619.23 406.54,619.41" fill="#9dbbea" stroke="#5e7cb4" stroke-width="0.5" stroke-linejoin="round"/>
<polygon points="405.93,620.07 406.39,621.01 407.22,621.74 408.22,622.37 409.35,622.92 410.56,623.41 411.83,623.83 413.11,624.2 414.37,624.53 415.56,624.83 416.66,625.12 417.63,625.4 418.47,625.67 419.18,625.93 419.93,626.08 420.07,625.92 419.74,625.14 419.04,624.56 418.16,624.06 417.15,623.63 416.02,623.24 414.82,622.88 413.57,622.53 412.32,622.19 411.09,621.83 409.92,621.46 408.84,621.08 407.86,620.67 406.99,620.24 406.07,619.93" fill="#c8dcf8" opacity="0.5"/>
<polygon points="420.43,636.56 420.54,638.03 421.39,639.05 422.46,639.87 423.65,640.49 424.89,640.96 426.14,641.3 427.36,641.54 428.51,641.71 429.56,641.83 430.47,641.91 431.23,641.95 431.85,641.96 432.39,641.9 433.45,641.58 434.55,640.42 434.54,639.09 433.75,638.2 432.76,637.54 431.68,637.06 430.55,636.7 429.41,636.43 428.28,636.22 427.19,636.05 426.16,635.89 425.21,635.74 424.36,635.6 423.58,635.46 422.82,635.33 421.57,635.44" fill="#9dbbea" stroke="#5e7cb4" stroke-width="0.5" stroke-linejoin="round"/>
<polygon points="420.93,636.07 421.36,637.05 422.16,637.79 423.12,638.39 424.18,638.86 425.32,639.23 426.5,639.52 427.67,639.74 428.82,639.92 429.9,640.08 430.88,640.24 431.76,640.43 432.51,640.64 433.17,640.88 433.93,641.07 434.07,640.93 433.76,640.1 433.08,639.52 432.23,639.07 431.26,638.72 430.21,638.45 429.1,638.23 427.97,638.03 426.83,637.84 425.72,637.62 424.67,637.37 423.7,637.08 422.81,636.72 421.99,636.31 421.07,635.93" fill="#c8dcf8" opacity="0.5"/>
<polygon points="359.43,610.4 359.51,611.13 359.6,611.72 359.64,612.48 359.61,613.41 359.52,614.5 359.39,615.71 359.26,617.01 359.16,618.37 359.13,619.75 359.2,621.11 359.43,622.43 359.85,623.66 360.49,624.74 361.44,625.42 362.56,624.58 362.3,623.66 362.07,622.86 361.92,621.95 361.85,620.92 361.86,619.77 361.94,618.54 362.05,617.26 362.17,615.96 362.25,614.67 362.26,613.42 362.16,612.23 361.89,611.13 361.39,610.15 360.57,609.6" fill="#a8484a" stroke="#8a3a3c" stroke-width="0.5" stroke-linejoin="round"/>
<polygon points="379.45,627.44 379.4,627.9 379.3,628.04 379.16,628.37 378.88,628.93 378.47,629.67 377.95,630.54 377.39,631.5 376.84,632.52 376.36,633.6 376.01,634.7 375.87,635.84 376.03,636.97 376.58,637.97 377.48,638.47 378.52,637.53 378.36,636.84 378.34,636.45 378.4,636 378.57,635.4 378.89,634.65 379.32,633.79 379.83,632.87 380.37,631.92 380.89,630.95 381.32,629.99 381.61,629.01 381.66,627.99 381.31,627 380.55,626.56" fill="#a8484a" stroke="#8a3a3c" stroke-width="0.5" stroke-linejoin="round"/>
<polygon points="396.41,643.38 396.46,644.07 396.44,644.53 396.32,645.12 396.08,645.9 395.7,646.85 395.23,647.92 394.72,649.09 394.22,650.33 393.8,651.61 393.51,652.92 393.43,654.23 393.64,655.51 394.18,656.67 395.13,657.41 396.27,656.59 396.05,655.69 395.94,655.01 395.96,654.26 396.12,653.39 396.41,652.4 396.82,651.32 397.3,650.18 397.8,649.01 398.26,647.83 398.62,646.65 398.83,645.48 398.79,644.32 398.4,643.23 397.59,642.62" fill="#a8484a" stroke="#8a3a3c" stroke-width="0.5" stroke-linejoin="round"/>
<polygon points="398.37,664.3 398.18,664.73 398.18,665.04 398.22,665.31 398.26,665.55 398.33,665.78 398.41,666.01 398.51,666.24 398.64,666.5 398.79,666.77 398.98,667.08 399.21,667.41 399.48,667.78 399.8,668.17 400.35,668.5 401.61,667.9 401.71,667.27 401.61,666.77 401.5,666.33 401.38,665.94 401.27,665.61 401.16,665.31 401.04,665.05 400.93,664.82 400.8,664.61 400.66,664.42 400.51,664.23 400.32,664.03 400.09,663.83 399.63,663.7" fill="#a8484a" stroke="#8a3a3c" stroke-width="0.5" stroke-linejoin="round"/>
<polygon points="344.48,607.61 344.66,609.28 345.74,610.33 347.08,611.08 348.52,611.56 350.01,611.83 351.48,611.95 352.9,611.96 354.23,611.9 355.42,611.81 356.44,611.7 357.25,611.58 357.87,611.43 358.38,611.2 359.5,610.63 360.5,609.37 360.4,607.82 359.36,606.91 358.11,606.33 356.8,605.99 355.45,605.82 354.1,605.76 352.79,605.76 351.53,605.81 350.36,605.85 349.32,605.9 348.41,605.93 347.63,605.96 346.87,606.02 345.52,606.39" fill="#d06666" stroke="#8a3a3c" stroke-width="0.5" stroke-linejoin="round"/>
<polygon points="344.94,607.08 345.45,608.11 346.4,608.8 347.54,609.3 348.8,609.62 350.13,609.79 351.5,609.86 352.86,609.86 354.18,609.81 355.43,609.76 356.56,609.74 357.55,609.76 358.39,609.85 359.1,609.99 359.94,610.08 360.06,609.92 359.67,609.04 358.84,608.49 357.82,608.14 356.67,607.95 355.44,607.86 354.15,607.85 352.82,607.87 351.51,607.9 350.24,607.89 349.05,607.84 347.95,607.71 346.97,607.49 346.08,607.19 345.06,606.92" fill="#e89898" opacity="0.5"/>
<polygon points="361.58,625.68 361.95,627.26 363.18,628.14 364.64,628.73 366.25,629.11 367.96,629.33 369.71,629.42 371.46,629.41 373.14,629.34 374.7,629.23 376.08,629.09 377.22,628.95 378.09,628.77 378.68,628.5 379.61,627.7 380.39,626.3 380.1,624.83 378.97,624.09 377.65,623.64 376.2,623.38 374.63,623.24 372.99,623.2 371.32,623.22 369.68,623.27 368.12,623.34 366.69,623.41 365.46,623.47 364.44,623.55 363.62,623.69 362.42,624.32" fill="#d06666" stroke="#8a3a3c" stroke-width="0.5" stroke-linejoin="round"/>
<polygon points="361.95,625.09 362.55,625.98 363.62,626.53 364.92,626.91 366.4,627.15 368.01,627.28 369.7,627.33 371.41,627.31 373.09,627.25 374.67,627.19 376.12,627.13 377.37,627.11 378.4,627.13 379.19,627.18 379.95,627.09 380.05,626.91 379.59,626.15 378.66,625.73 377.5,625.48 376.15,625.34 374.65,625.29 373.04,625.29 371.37,625.32 369.69,625.36 368.06,625.38 366.54,625.36 365.17,625.29 363.99,625.16 363.02,624.98 362.05,624.91" fill="#e89898" opacity="0.5"/>
<polygon points="377.48,638.61 377.73,640.34 378.94,641.46 380.43,642.31 382.1,642.95 383.88,643.41 385.71,643.73 387.53,643.95 389.29,644.09 390.92,644.18 392.37,644.24 393.6,644.27 394.56,644.26 395.3,644.15 396.5,643.63 397.5,642.37 397.33,640.77 396.2,639.79 394.82,639.1 393.28,638.6 391.63,638.24 389.9,637.98 388.15,637.78 386.43,637.63 384.8,637.49 383.31,637.36 382,637.23 380.89,637.12 379.94,637.07 378.52,637.39" fill="#d06666" stroke="#8a3a3c" stroke-width="0.5" stroke-linejoin="round"/>
<polygon points="377.94,638.08 378.53,639.16 379.62,639.94 380.97,640.56 382.52,641.03 384.19,641.39 385.95,641.65 387.74,641.85 389.5,642.01 391.16,642.15 392.68,642.31 394.02,642.48 395.13,642.69 396.03,642.93 396.94,643.08 397.06,642.92 396.6,641.99 395.63,641.36 394.4,640.88 392.97,640.53 391.39,640.27 389.69,640.06 387.94,639.88 386.19,639.7 384.49,639.51 382.9,639.27 381.46,638.99 380.21,638.64 379.15,638.24 378.06,637.92" fill="#e89898" opacity="0.5"/>
<polygon points="394.98,657.34 394.16,658.36 394.05,659.08 394.07,659.77 394.16,660.44 394.31,661.08 394.52,661.7 394.76,662.27 395.04,662.81 395.35,663.29 395.7,663.71 396.09,664.06 396.53,664.34 397.07,664.52 398.28,664.34 399.72,663.66 400.63,662.84 400.84,662.31 400.9,661.8 400.87,661.27 400.77,660.73 400.6,660.19 400.37,659.63 400.08,659.07 399.73,658.53 399.33,658 398.88,657.5 398.35,657.05 397.73,656.68 396.42,656.66" fill="#d06666" stroke="#8a3a3c" stroke-width="0.5" stroke-linejoin="round"/>
<polygon points="395.61,657.04 395.44,657.75 395.56,658.37 395.73,658.98 395.93,659.6 396.16,660.21 396.41,660.8 396.67,661.38 396.93,661.92 397.2,662.42 397.48,662.87 397.75,663.28 398.04,663.63 398.35,663.92 398.91,664.04 399.09,663.96 399.35,663.45 399.33,663.02 399.24,662.58 399.1,662.11 398.92,661.61 398.71,661.08 398.46,660.53 398.18,659.97 397.88,659.4 397.56,658.83 397.21,658.28 396.85,657.76 396.45,657.28 395.79,656.96" fill="#e89898" opacity="0.5"/>
<path d="M330,596.5 C331,596.92 335,598.58 336,599" fill="none" stroke="#8a3a3c" stroke-width="5.2" stroke-linecap="round" stroke-linejoin="round"/>
<path d="M330,596.5 C331,596.92 335,598.58 336,599" fill="none" stroke="#d06666" stroke-width="4.2" stroke-linecap="round" stroke-linejoin="round"/>
<polygon points="346.22,607.67 347.32,607.67 348.49,607.11 349.64,606.26 350.81,605.19 352.01,603.95 353.22,602.58 354.47,601.15 355.72,599.73 356.97,598.37 358.2,597.12 359.39,596.05 360.52,595.18 361.57,594.53 362.59,593.87 362.21,592.53 360.8,592.56 359.32,593.15 357.86,594.03 356.43,595.15 355.02,596.44 353.66,597.85 352.36,599.31 351.12,600.76 349.96,602.13 348.9,603.35 347.94,604.39 347.1,605.19 346.41,605.76 345.78,606.33" fill="#a8484a" stroke="#8a3a3c" stroke-width="0.5" stroke-linejoin="round"/>
<polygon points="371.95,612.7 372.88,613.09 374.05,612.75 375.11,612.04 376.12,611.08 377.13,609.92 378.16,608.64 379.19,607.3 380.24,606 381.27,604.81 382.26,603.8 383.17,603.04 383.98,602.55 384.69,602.29 385.59,602.09 385.81,600.71 384.66,600.18 383.23,600.31 381.85,600.88 380.54,601.78 379.29,602.91 378.11,604.2 377,605.57 375.95,606.93 374.99,608.21 374.13,609.32 373.39,610.18 372.83,610.73 372.5,611.01 372.05,611.3" fill="#a8484a" stroke="#8a3a3c" stroke-width="0.5" stroke-linejoin="round"/>
<polygon points="395.97,617.7 396.9,618.07 398.04,617.81 399.12,617.21 400.17,616.39 401.21,615.4 402.27,614.3 403.34,613.16 404.41,612.04 405.47,611.02 406.5,610.14 407.46,609.46 408.35,609 409.16,608.74 410.12,608.5 410.28,607.1 409.09,606.63 407.69,606.74 406.29,607.22 404.96,607.98 403.68,608.95 402.46,610.06 401.31,611.23 400.23,612.41 399.24,613.5 398.35,614.45 397.59,615.2 396.98,615.7 396.56,615.99 396.03,616.3" fill="#a8484a" stroke="#8a3a3c" stroke-width="0.5" stroke-linejoin="round"/>
<polygon points="421.79,624.89 422.56,625.35 423.63,625.11 424.48,624.51 425.18,623.72 425.81,622.81 426.42,621.82 427.01,620.81 427.6,619.86 428.18,619.01 428.75,618.34 429.26,617.87 429.72,617.58 430.2,617.42 431.02,617.28 431.38,615.92 430.4,615.32 429.16,615.28 427.98,615.68 426.95,616.38 426.07,617.28 425.29,618.3 424.61,619.37 424.01,620.42 423.48,621.39 423.01,622.19 422.64,622.77 422.41,623.09 422.38,623.24 422.01,623.51" fill="#a8484a" stroke="#8a3a3c" stroke-width="0.5" stroke-linejoin="round"/>
<polygon points="442.81,635.39 443.66,635.83 444.77,635.51 445.66,634.82 446.43,633.92 447.14,632.86 447.83,631.7 448.51,630.51 449.2,629.37 449.88,628.34 450.55,627.5 451.16,626.9 451.69,626.54 452.21,626.34 453.05,626.18 453.35,624.82 452.31,624.23 450.99,624.28 449.76,624.79 448.67,625.63 447.72,626.67 446.87,627.85 446.1,629.09 445.41,630.32 444.79,631.45 444.24,632.42 443.77,633.13 443.46,633.55 443.37,633.73 442.99,634.01" fill="#a8484a" stroke="#8a3a3c" stroke-width="0.5" stroke-linejoin="round"/>
<polygon points="462.38,644.89 463.21,645.36 464.33,645.1 465.29,644.47 466.17,643.62 467.03,642.59 467.88,641.47 468.75,640.3 469.61,639.17 470.45,638.16 471.26,637.33 471.99,636.73 472.62,636.37 473.18,636.19 474.01,636.07 474.39,634.73 473.37,634.09 472.04,634.08 470.75,634.52 469.56,635.29 468.47,636.28 467.45,637.41 466.51,638.62 465.64,639.82 464.85,640.94 464.15,641.9 463.57,642.62 463.16,643.05 463,643.25 462.62,643.51" fill="#a8484a" stroke="#8a3a3c" stroke-width="0.5" stroke-linejoin="round"/>
<polygon points="483.33,654.18 484.06,654.69 485.14,654.46 485.99,653.87 486.71,653.08 487.38,652.15 488.03,651.14 488.68,650.11 489.33,649.13 489.96,648.26 490.55,647.58 491.07,647.12 491.49,646.86 491.89,646.73 492.66,646.66 493.14,645.34 492.26,644.65 491.03,644.55 489.84,644.91 488.8,645.59 487.88,646.49 487.06,647.51 486.33,648.6 485.67,649.68 485.08,650.67 484.56,651.51 484.16,652.12 483.93,652.44 483.96,652.58 483.67,652.82" fill="#a8484a" stroke="#8a3a3c" stroke-width="0.5" stroke-linejoin="round"/>
<polygon points="501.91,664.64 502.53,665.27 503.59,665.34 504.53,664.98 505.33,664.41 506.04,663.73 506.73,662.98 507.39,662.22 508.04,661.52 508.65,660.92 509.21,660.49 509.69,660.21 510.11,660.07 510.61,660.05 511.47,660.12 512.13,658.88 511.35,658.07 510.21,657.71 509.02,657.77 507.92,658.17 506.94,658.79 506.08,659.54 505.31,660.35 504.62,661.16 504.02,661.89 503.51,662.48 503.14,662.87 502.96,663.07 502.93,663.2 502.49,663.36" fill="#a8484a" stroke="#8a3a3c" stroke-width="0.5" stroke-linejoin="round"/>
<polygon points="519.48,675.87 520.11,676.41 521.12,676.34 521.96,675.92 522.69,675.33 523.36,674.63 524.02,673.87 524.68,673.1 525.32,672.37 525.94,671.75 526.5,671.27 527,670.95 527.42,670.76 527.86,670.68 528.62,670.64 529.18,669.36 528.4,668.64 527.28,668.41 526.15,668.56 525.1,669.01 524.16,669.66 523.32,670.44 522.56,671.26 521.88,672.09 521.28,672.85 520.78,673.48 520.4,673.93 520.2,674.16 520.22,674.3 519.92,674.53" fill="#a8484a" stroke="#8a3a3c" stroke-width="0.5" stroke-linejoin="round"/>
<polygon points="536.48,687.62 536.99,688.25 538.02,688.32 538.87,687.95 539.54,687.41 540.13,686.78 540.69,686.1 541.22,685.42 541.73,684.8 542.21,684.3 542.62,683.95 542.93,683.75 543.19,683.64 543.56,683.61 544.32,683.69 545.08,682.51 544.44,681.69 543.42,681.28 542.32,681.29 541.3,681.64 540.44,682.22 539.69,682.91 539.05,683.66 538.48,684.4 538,685.07 537.61,685.6 537.35,685.94 537.31,686.07 537.46,686.19 537.12,686.38" fill="#a8484a" stroke="#8a3a3c" stroke-width="0.5" stroke-linejoin="round"/>
<polygon points="552.3,700.83 552.86,701.46 553.89,701.54 554.79,701.22 555.55,700.69 556.25,700.06 556.92,699.38 557.57,698.69 558.2,698.05 558.8,697.51 559.34,697.12 559.79,696.88 560.18,696.75 560.64,696.73 561.45,696.8 562.15,695.6 561.44,694.78 560.36,694.4 559.21,694.41 558.14,694.75 557.18,695.31 556.32,695.99 555.56,696.74 554.88,697.49 554.28,698.16 553.78,698.72 553.43,699.08 553.27,699.26 553.29,699.39 552.9,699.57" fill="#a8484a" stroke="#8a3a3c" stroke-width="0.5" stroke-linejoin="round"/>
<polygon points="570.88,712.69 571.75,713.18 572.9,713.11 574.04,712.7 575.16,712.08 576.3,711.31 577.45,710.43 578.61,709.52 579.77,708.64 580.91,707.83 582,707.16 583.03,706.66 583.96,706.34 584.82,706.2 585.84,706.08 586.16,704.72 585.04,704.1 583.65,704 582.22,704.26 580.82,704.78 579.46,705.51 578.15,706.37 576.9,707.31 575.72,708.25 574.64,709.13 573.68,709.88 572.85,710.47 572.19,710.85 571.72,711.07 571.12,711.31" fill="#a8484a" stroke="#8a3a3c" stroke-width="0.5" stroke-linejoin="round"/>
<polygon points="334.04,598.8 335.01,600.06 335.45,600.62 335.81,601.14 336.22,601.73 336.73,602.45 337.33,603.33 338.01,604.32 338.76,605.38 339.61,606.44 340.59,607.46 341.76,608.36 343.19,608.99 344.82,609.09 346,607.8 346,606.2 345.56,604.91 345.65,604.45 345.61,604.02 345.36,603.41 344.91,602.58 344.32,601.56 343.57,600.41 342.67,599.22 341.59,598.04 340.3,596.98 338.78,596.15 337.07,595.71 335.32,595.83 333.96,597.2" fill="#d06666" stroke="#8a3a3c" stroke-width="0.5" stroke-linejoin="round"/>
<polygon points="334,598.1 335.12,598.54 336.02,598.9 336.83,599.42 337.62,600.1 338.39,600.95 339.15,601.93 339.9,602.99 340.65,604.08 341.42,605.12 342.22,606.07 343.09,606.86 344.05,607.41 345.08,607.59 346,607.1 346,606.9 345.29,606.41 344.79,606.04 344.29,605.52 343.72,604.8 343.1,603.9 342.43,602.86 341.68,601.74 340.85,600.62 339.93,599.55 338.9,598.61 337.76,597.87 336.51,597.42 335.21,597.34 334,597.9" fill="#e89898" opacity="0.5"/>
<polygon points="362.01,593.9 362.09,595.43 362.31,596.29 362.66,597.35 363.1,598.68 363.6,600.26 364.14,602.02 364.71,603.88 365.32,605.77 365.97,607.61 366.7,609.32 367.54,610.85 368.56,612.15 369.88,613.11 371.56,612.67 372.44,611.33 372.84,610.06 372.97,609.45 372.85,608.51 372.59,607.22 372.23,605.62 371.76,603.8 371.2,601.85 370.52,599.84 369.72,597.87 368.76,596.01 367.63,594.35 366.27,592.97 364.65,592.04 362.79,592.5" fill="#d06666" stroke="#8a3a3c" stroke-width="0.5" stroke-linejoin="round"/>
<polygon points="362.35,593.29 363.01,594.22 363.69,595.13 364.37,596.31 365.04,597.77 365.69,599.44 366.31,601.28 366.92,603.19 367.51,605.1 368.11,606.93 368.72,608.6 369.38,610.05 370.1,611.21 370.94,612.01 371.95,612.08 372.05,611.92 371.78,611.15 371.43,610.39 371.02,609.32 370.57,607.94 370.09,606.3 369.57,604.47 368.99,602.54 368.35,600.58 367.63,598.69 366.82,596.93 365.91,595.38 364.89,594.13 363.74,593.26 362.45,593.11" fill="#e89898" opacity="0.5"/>
<polygon points="385.39,602.14 385.65,603.66 385.93,604.46 386.3,605.35 386.77,606.43 387.29,607.72 387.87,609.15 388.48,610.69 389.13,612.26 389.85,613.79 390.64,615.23 391.55,616.53 392.66,617.63 394.05,618.36 395.64,617.72 396.36,616.28 396.59,614.96 396.71,614.41 396.59,613.64 396.31,612.58 395.9,611.27 395.39,609.75 394.77,608.11 394.03,606.42 393.15,604.75 392.11,603.18 390.89,601.78 389.45,600.66 387.79,600 386.01,600.66" fill="#d06666" stroke="#8a3a3c" stroke-width="0.5" stroke-linejoin="round"/>
<polygon points="385.66,601.49 386.42,602.35 387.16,603.13 387.89,604.12 388.6,605.32 389.29,606.71 389.96,608.23 390.62,609.81 391.26,611.41 391.91,612.93 392.58,614.33 393.29,615.54 394.07,616.5 394.96,617.14 395.96,617.09 396.04,616.91 395.68,616.18 395.29,615.53 394.85,614.64 394.36,613.49 393.84,612.13 393.26,610.61 392.63,608.99 391.93,607.35 391.15,605.76 390.28,604.29 389.3,603.01 388.22,601.99 387.03,601.31 385.74,601.31" fill="#e89898" opacity="0.5"/>
<polygon points="409.8,608.49 409.89,610.05 410.25,610.99 410.78,612.06 411.42,613.32 412.15,614.75 412.95,616.3 413.79,617.91 414.67,619.52 415.58,621.06 416.54,622.48 417.54,623.71 418.64,624.72 419.9,625.4 421.46,624.87 422.34,623.53 422.7,622.21 422.69,621.5 422.42,620.57 421.97,619.37 421.37,617.96 420.63,616.38 419.78,614.7 418.82,613 417.76,611.34 416.59,609.79 415.31,608.43 413.91,607.33 412.37,606.61 410.6,607.11" fill="#d06666" stroke="#8a3a3c" stroke-width="0.5" stroke-linejoin="round"/>
<polygon points="410.15,607.89 410.78,608.82 411.53,609.71 412.34,610.81 413.19,612.11 414.06,613.59 414.95,615.18 415.83,616.82 416.7,618.45 417.56,620 418.4,621.41 419.22,622.63 420.05,623.6 420.9,624.26 421.84,624.28 421.96,624.12 421.7,623.35 421.27,622.63 420.73,621.65 420.11,620.44 419.39,619.02 418.61,617.45 417.75,615.8 416.82,614.12 415.85,612.5 414.82,611 413.74,609.68 412.63,608.61 411.48,607.85 410.25,607.71" fill="#e89898" opacity="0.5"/>
<polygon points="430.8,617.29 430.89,618.86 431.24,619.81 431.75,620.94 432.39,622.31 433.11,623.88 433.89,625.6 434.71,627.4 435.58,629.19 436.48,630.92 437.42,632.51 438.42,633.9 439.53,635.05 440.83,635.84 442.45,635.36 443.35,634.04 443.71,632.72 443.7,631.99 443.44,630.99 442.99,629.68 442.41,628.11 441.7,626.36 440.87,624.5 439.93,622.61 438.88,620.76 437.72,619.04 436.44,617.52 435.02,616.28 433.43,615.46 431.6,615.91" fill="#d06666" stroke="#8a3a3c" stroke-width="0.5" stroke-linejoin="round"/>
<polygon points="431.15,616.69 431.8,617.64 432.56,618.57 433.37,619.76 434.22,621.19 435.08,622.82 435.94,624.58 436.81,626.41 437.66,628.23 438.5,629.96 439.33,631.54 440.15,632.9 440.99,633.98 441.86,634.72 442.84,634.78 442.96,634.62 442.68,633.83 442.24,633.06 441.71,631.99 441.08,630.65 440.38,629.07 439.61,627.33 438.78,625.49 437.87,623.63 436.91,621.83 435.89,620.16 434.82,618.7 433.7,617.51 432.52,616.67 431.25,616.51" fill="#e89898" opacity="0.5"/>
<polygon points="452.75,626.16 452.7,627.7 452.91,628.61 453.26,629.73 453.71,631.09 454.21,632.68 454.76,634.42 455.34,636.25 455.96,638.09 456.63,639.87 457.35,641.53 458.17,643.01 459.13,644.25 460.36,645.18 462.01,644.83 462.99,643.57 463.5,642.32 463.61,641.67 463.49,640.7 463.23,639.4 462.86,637.82 462.38,636.04 461.8,634.13 461.12,632.18 460.31,630.26 459.37,628.45 458.28,626.82 457,625.46 455.49,624.51 453.65,624.84" fill="#d06666" stroke="#8a3a3c" stroke-width="0.5" stroke-linejoin="round"/>
<polygon points="453.14,625.58 453.7,626.56 454.34,627.51 454.99,628.72 455.65,630.19 456.29,631.85 456.92,633.66 457.54,635.53 458.15,637.39 458.75,639.17 459.37,640.8 460.01,642.21 460.7,643.35 461.48,644.16 462.44,644.28 462.56,644.12 462.37,643.34 462.05,642.57 461.66,641.49 461.22,640.13 460.73,638.52 460.2,636.74 459.61,634.85 458.95,632.94 458.23,631.08 457.43,629.35 456.55,627.82 455.57,626.56 454.49,625.65 453.26,625.42" fill="#e89898" opacity="0.5"/>
<polygon points="473.71,636.04 473.56,637.56 473.77,638.51 474.13,639.65 474.6,641.01 475.14,642.57 475.73,644.26 476.35,646.02 477.02,647.78 477.72,649.47 478.47,651.03 479.29,652.41 480.23,653.57 481.37,654.42 482.97,654.1 484.03,652.9 484.61,651.68 484.71,650.99 484.58,650.02 484.29,648.74 483.88,647.21 483.36,645.5 482.74,643.67 482.01,641.81 481.17,639.98 480.21,638.25 479.13,636.71 477.91,635.41 476.49,634.49 474.69,634.76" fill="#d06666" stroke="#8a3a3c" stroke-width="0.5" stroke-linejoin="round"/>
<polygon points="474.14,635.48 474.61,636.46 475.21,637.43 475.86,638.63 476.52,640.07 477.19,641.68 477.86,643.42 478.52,645.22 479.18,647 479.82,648.7 480.47,650.25 481.12,651.59 481.79,652.67 482.53,653.44 483.43,653.58 483.57,653.42 483.45,652.66 483.14,651.89 482.75,650.84 482.3,649.52 481.78,647.98 481.2,646.27 480.57,644.47 479.87,642.64 479.11,640.86 478.29,639.2 477.41,637.72 476.46,636.5 475.44,635.59 474.26,635.32" fill="#e89898" opacity="0.5"/>
<polygon points="492.37,646.6 492.17,648.18 492.42,649.23 492.8,650.42 493.28,651.79 493.81,653.33 494.4,654.97 495.02,656.67 495.69,658.37 496.39,659.99 497.14,661.5 497.97,662.84 498.9,663.97 500.02,664.81 501.64,664.57 502.76,663.43 503.33,662.15 503.38,661.39 503.23,660.39 502.93,659.13 502.52,657.65 502,656.01 501.38,654.26 500.66,652.47 499.83,650.7 498.89,649.03 497.83,647.51 496.63,646.22 495.26,645.27 493.43,645.4" fill="#d06666" stroke="#8a3a3c" stroke-width="0.5" stroke-linejoin="round"/>
<polygon points="492.83,646.07 493.28,647.14 493.89,648.18 494.54,649.41 495.2,650.85 495.86,652.43 496.53,654.12 497.18,655.85 497.83,657.56 498.48,659.2 499.13,660.69 499.78,662 500.47,663.07 501.2,663.86 502.13,664.07 502.27,663.93 502.14,663.1 501.81,662.29 501.41,661.24 500.95,659.94 500.43,658.45 499.85,656.81 499.22,655.08 498.53,653.32 497.77,651.6 496.96,649.97 496.09,648.51 495.16,647.27 494.16,646.31 492.97,645.93" fill="#e89898" opacity="0.5"/>
<polygon points="511.3,660.13 511.07,661.62 511.21,662.49 511.48,663.49 511.84,664.66 512.26,665.98 512.72,667.4 513.22,668.89 513.76,670.38 514.35,671.82 514.98,673.16 515.7,674.35 516.55,675.37 517.61,676.14 519.16,675.79 520.24,674.61 520.89,673.44 521.07,672.86 521.02,672.04 520.84,670.96 520.54,669.67 520.14,668.21 519.64,666.65 519.03,665.04 518.31,663.45 517.47,661.93 516.49,660.56 515.36,659.41 514.04,658.58 512.3,658.87" fill="#d06666" stroke="#8a3a3c" stroke-width="0.5" stroke-linejoin="round"/>
<polygon points="511.74,659.58 512.13,660.53 512.66,661.41 513.21,662.48 513.77,663.72 514.32,665.11 514.87,666.6 515.4,668.13 515.93,669.64 516.46,671.09 516.99,672.41 517.54,673.55 518.13,674.49 518.78,675.17 519.63,675.27 519.77,675.13 519.71,674.4 519.49,673.74 519.19,672.84 518.83,671.71 518.43,670.4 517.97,668.95 517.46,667.41 516.88,665.84 516.25,664.31 515.54,662.87 514.76,661.57 513.91,660.48 512.97,659.67 511.86,659.42" fill="#e89898" opacity="0.5"/>
<polygon points="528.33,670.56 527.97,672.07 528.12,673.07 528.41,674.21 528.79,675.52 529.23,676.97 529.72,678.52 530.25,680.12 530.82,681.71 531.43,683.23 532.09,684.64 532.81,685.89 533.63,686.94 534.63,687.73 536.2,687.53 537.4,686.47 538.11,685.3 538.25,684.6 538.17,683.66 537.96,682.48 537.64,681.09 537.21,679.55 536.68,677.9 536.05,676.21 535.32,674.54 534.49,672.96 533.55,671.52 532.47,670.28 531.23,669.35 529.47,669.44" fill="#d06666" stroke="#8a3a3c" stroke-width="0.5" stroke-linejoin="round"/>
<polygon points="528.83,670.07 529.14,671.1 529.64,672.09 530.18,673.28 530.74,674.64 531.31,676.14 531.87,677.74 532.44,679.37 532.99,680.97 533.55,682.5 534.1,683.9 534.66,685.12 535.24,686.12 535.88,686.86 536.72,687.07 536.88,686.93 536.87,686.17 536.63,685.42 536.32,684.43 535.95,683.22 535.52,681.82 535.03,680.28 534.49,678.65 533.9,677 533.24,675.37 532.54,673.83 531.77,672.44 530.95,671.26 530.06,670.33 528.97,669.93" fill="#e89898" opacity="0.5"/>
<polygon points="544.15,683.68 543.85,685.21 544,686.19 544.29,687.31 544.66,688.6 545.08,690.05 545.55,691.59 546.05,693.2 546.6,694.79 547.18,696.33 547.83,697.77 548.55,699.05 549.39,700.13 550.43,700.96 552.02,700.75 553.18,699.65 553.85,698.45 553.99,697.77 553.92,696.85 553.72,695.68 553.42,694.29 553.02,692.74 552.52,691.08 551.91,689.37 551.2,687.68 550.38,686.07 549.43,684.61 548.33,683.35 547.04,682.41 545.25,682.52" fill="#d06666" stroke="#8a3a3c" stroke-width="0.5" stroke-linejoin="round"/>
<polygon points="544.63,683.17 544.99,684.21 545.51,685.2 546.06,686.38 546.62,687.74 547.17,689.24 547.71,690.84 548.25,692.48 548.78,694.09 549.31,695.64 549.85,697.05 550.4,698.29 550.99,699.31 551.65,700.06 552.53,700.27 552.67,700.13 552.62,699.35 552.38,698.6 552.07,697.61 551.7,696.39 551.29,694.99 550.83,693.44 550.32,691.8 549.75,690.13 549.11,688.49 548.42,686.94 547.65,685.54 546.82,684.34 545.9,683.41 544.77,683.03" fill="#e89898" opacity="0.5"/>
<polygon points="561.42,696.91 561.58,698.47 561.83,699.31 562.15,700.23 562.54,701.32 562.97,702.58 563.43,703.99 563.93,705.49 564.47,707.02 565.08,708.53 565.77,709.97 566.6,711.28 567.63,712.4 568.95,713.2 570.58,712.68 571.42,711.32 571.73,709.99 571.85,709.42 571.78,708.66 571.57,707.63 571.27,706.35 570.87,704.88 570.36,703.28 569.74,701.61 568.98,699.96 568.06,698.37 566.93,696.94 565.59,695.76 564.01,694.99 562.18,695.49" fill="#d06666" stroke="#8a3a3c" stroke-width="0.5" stroke-linejoin="round"/>
<polygon points="561.75,696.29 562.45,697.23 563.14,698.07 563.8,699.09 564.43,700.31 565.02,701.69 565.58,703.18 566.12,704.74 566.65,706.29 567.19,707.79 567.76,709.17 568.39,710.37 569.1,711.36 569.94,712.05 570.95,712.09 571.05,711.91 570.73,711.14 570.38,710.46 569.99,709.56 569.59,708.43 569.16,707.1 568.69,705.61 568.18,704.03 567.6,702.42 566.93,700.85 566.16,699.38 565.28,698.08 564.28,697 563.14,696.24 561.85,696.11" fill="#e89898" opacity="0.5"/>
<path d="M375,641.6 C376.6,641.87 381.65,643.2 384.6,643.2 C387.55,643.2 390.55,640.8 392.7,641.6 C394.85,642.4 396.97,645.6 397.5,648 C398.03,650.4 395.9,653.32 395.9,656 C395.9,658.68 396.43,661.68 397.5,664.1 C398.57,666.52 399.88,668.63 402.3,670.5 C404.72,672.37 409.32,673.7 412,675.3 C414.68,676.9 417.33,678.22 418.4,680.1 C419.47,681.98 419.75,685.52 418.4,686.6 C417.05,687.68 413.25,686.33 410.3,686.6 C407.35,686.87 403.1,686.87 400.7,688.2 C398.3,689.53 396.17,691.93 395.9,694.6 C395.63,697.27 396.97,701.52 399.1,704.2 C401.23,706.88 405.48,709.9 408.7,710.7 C411.92,711.5 415.98,710.08 418.4,709 C420.82,707.92 423.2,706.33 423.2,704.2 C423.2,702.07 419.47,698.33 418.4,696.2 C417.33,694.07 415.47,690.87 416.8,691.4 C418.13,691.93 423.2,697.8 426.4,699.4 C429.6,701 433.33,701.8 436,701 C438.67,700.2 441.87,697 442.4,694.6 C442.93,692.2 440.27,689.02 439.2,686.6 C438.13,684.18 436,681.7 436,680.1 C436,678.5 437.58,677.27 439.2,677 C440.82,676.73 444.35,676.63 445.7,678.5 C447.05,680.37 446.5,685.52 447.3,688.2 C448.1,690.88 448.63,693 450.5,694.6 C452.37,696.2 456.08,698.07 458.5,697.8 C460.92,697.53 463.13,695.67 465,693 C466.87,690.33 468.63,685.55 469.7,681.8 C470.77,678.05 471.67,673.45 471.4,670.5 C471.13,667.55 469.98,665.17 468.1,664.1 C466.22,663.03 463.03,663.57 460.1,664.1 C457.17,664.63 452.1,666.77 450.5,667.3" fill="none" stroke="#8a3a3c" stroke-width="4.6" stroke-linecap="round" stroke-linejoin="round"/>
<path d="M375,641.6 C376.6,641.87 381.65,643.2 384.6,643.2 C387.55,643.2 390.55,640.8 392.7,641.6 C394.85,642.4 396.97,645.6 397.5,648 C398.03,650.4 395.9,653.32 395.9,656 C395.9,658.68 396.43,661.68 397.5,664.1 C398.57,666.52 399.88,668.63 402.3,670.5 C404.72,672.37 409.32,673.7 412,675.3 C414.68,676.9 417.33,678.22 418.4,680.1 C419.47,681.98 419.75,685.52 418.4,686.6 C417.05,687.68 413.25,686.33 410.3,686.6 C407.35,686.87 403.1,686.87 400.7,688.2 C398.3,689.53 396.17,691.93 395.9,694.6 C395.63,697.27 396.97,701.52 399.1,704.2 C401.23,706.88 405.48,709.9 408.7,710.7 C411.92,711.5 415.98,710.08 418.4,709 C420.82,707.92 423.2,706.33 423.2,704.2 C423.2,702.07 419.47,698.33 418.4,696.2 C417.33,694.07 415.47,690.87 416.8,691.4 C418.13,691.93 423.2,697.8 426.4,699.4 C429.6,701 433.33,701.8 436,701 C438.67,700.2 441.87,697 442.4,694.6 C442.93,692.2 440.27,689.02 439.2,686.6 C438.13,684.18 436,681.7 436,680.1 C436,678.5 437.58,677.27 439.2,677 C440.82,676.73 444.35,676.63 445.7,678.5 C447.05,680.37 446.5,685.52 447.3,688.2 C448.1,690.88 448.63,693 450.5,694.6 C452.37,696.2 456.08,698.07 458.5,697.8 C460.92,697.53 463.13,695.67 465,693 C466.87,690.33 468.63,685.55 469.7,681.8 C470.77,678.05 471.67,673.45 471.4,670.5 C471.13,667.55 469.98,665.17 468.1,664.1 C466.22,663.03 463.03,663.57 460.1,664.1 C457.17,664.63 452.1,666.77 450.5,667.3" fill="none" stroke="#d06666" stroke-width="3.6" stroke-linecap="round" stroke-linejoin="round"/>
<path d="M421.6,641 C423.33,641.5 428.53,642.57 432,644 C435.47,645.43 440.67,648.67 442.4,649.6" fill="none" stroke="#5e7cb4" stroke-width="4.2" stroke-linecap="round" stroke-linejoin="round"/>
<path d="M421.6,641 C423.33,641.5 428.53,642.57 432,644 C435.47,645.43 440.67,648.67 442.4,649.6" fill="none" stroke="#9dbbea" stroke-width="3.2" stroke-linecap="round" stroke-linejoin="round"/>
<path d="M447.3,664 C448.75,665.33 453.55,669.33 456,672 C458.45,674.67 458.9,677.67 462,680 C465.1,682.33 472.5,685 474.6,686" fill="none" stroke="#5e7cb4" stroke-width="4.6" stroke-linecap="round" stroke-linejoin="round"/>
<path d="M447.3,664 C448.75,665.33 453.55,669.33 456,672 C458.45,674.67 458.9,677.67 462,680 C465.1,682.33 472.5,685 474.6,686" fill="none" stroke="#9dbbea" stroke-width="3.6" stroke-linecap="round" stroke-linejoin="round"/>
<path d="M470,686 C472.13,685.2 480.67,682 482.8,681.2" fill="none" stroke="#5e7cb4" stroke-width="3.08" stroke-linecap="round" stroke-linejoin="round"/>
<path d="M470,686 C472.13,685.2 480.67,682 482.8,681.2" fill="none" stroke="#7898d0" stroke-width="2.08" stroke-linecap="round" stroke-linejoin="round"/>
<polygon points="485.66,699.51 486.26,700.17 487.31,700.38 488.38,700.24 489.44,699.87 490.52,699.35 491.63,698.74 492.73,698.09 493.81,697.47 494.84,696.93 495.78,696.51 496.59,696.25 497.25,696.14 497.79,696.16 498.52,696.29 499.28,695.11 498.58,694.31 497.45,693.93 496.24,693.91 495.01,694.16 493.79,694.61 492.59,695.19 491.43,695.84 490.32,696.5 489.3,697.11 488.4,697.62 487.67,697.97 487.15,698.16 486.85,698.25 486.34,698.29" fill="#7898d0" stroke="#5e7cb4" stroke-width="0.5" stroke-linejoin="round"/>
<polygon points="503.42,715.64 504.13,716.25 505.25,716.3 506.33,715.96 507.39,715.37 508.44,714.61 509.51,713.75 510.59,712.84 511.64,711.97 512.66,711.18 513.59,710.56 514.39,710.14 515.03,709.93 515.54,709.87 516.28,709.92 516.92,708.68 516.11,707.94 514.89,707.71 513.64,707.89 512.41,708.38 511.22,709.09 510.05,709.93 508.92,710.85 507.85,711.77 506.86,712.62 505.98,713.33 505.25,713.85 504.73,714.14 504.46,714.27 503.98,714.36" fill="#7898d0" stroke="#5e7cb4" stroke-width="0.5" stroke-linejoin="round"/>
<polygon points="521.16,726.86 521.9,727.43 523.02,727.51 524.15,727.25 525.29,726.77 526.46,726.14 527.66,725.4 528.87,724.63 530.07,723.88 531.22,723.2 532.29,722.65 533.24,722.27 534.05,722.07 534.72,722.02 535.53,722.04 536.07,720.76 535.2,720.07 533.97,719.85 532.67,719.97 531.35,720.36 530.04,720.94 528.75,721.65 527.48,722.44 526.27,723.23 525.15,723.96 524.14,724.58 523.29,725.04 522.63,725.32 522.2,725.44 521.64,725.54" fill="#7898d0" stroke="#5e7cb4" stroke-width="0.5" stroke-linejoin="round"/>
<polygon points="542.05,738.05 542.75,738.63 543.81,738.75 544.86,738.54 545.9,738.12 546.93,737.56 547.96,736.9 548.99,736.22 550,735.56 550.97,734.98 551.87,734.51 552.68,734.2 553.38,734.04 554.01,734.01 554.82,734.04 555.38,732.76 554.55,732.07 553.38,731.81 552.17,731.88 550.96,732.21 549.79,732.72 548.65,733.36 547.56,734.05 546.53,734.75 545.58,735.39 544.74,735.93 544.03,736.32 543.49,736.55 543.12,736.66 542.55,736.75" fill="#7898d0" stroke="#5e7cb4" stroke-width="0.5" stroke-linejoin="round"/>
<polygon points="562.57,750.76 562.84,751.53 563.39,752.09 564.06,752.47 564.79,752.62 565.44,752.59 565.97,752.47 566.39,752.36 566.71,752.27 566.95,752.22 567.16,752.2 567.42,752.24 567.79,752.39 568.29,752.7 569.06,753.15 570.14,752.25 569.75,751.32 569.15,750.63 568.47,750.11 567.71,749.79 566.96,749.67 566.27,749.72 565.71,749.85 565.28,749.98 564.98,750.08 564.8,750.14 564.71,750.19 564.55,750.2 564.24,750.09 563.63,749.84" fill="#7898d0" stroke="#5e7cb4" stroke-width="0.5" stroke-linejoin="round"/>
<polygon points="482.18,681.71 481.82,682.92 481.78,683.7 481.79,684.67 481.82,685.87 481.84,687.27 481.85,688.81 481.87,690.45 481.92,692.11 482.03,693.75 482.23,695.32 482.56,696.78 483.09,698.09 483.92,699.2 485.36,699.38 486.64,698.42 487.22,697.45 487.41,696.89 487.51,696.05 487.58,694.93 487.63,693.56 487.67,692 487.67,690.32 487.6,688.58 487.43,686.83 487.13,685.13 486.66,683.54 485.97,682.1 484.98,680.93 483.42,680.69" fill="#9dbbea" stroke="#5e7cb4" stroke-width="0.5" stroke-linejoin="round"/>
<polygon points="482.72,681.26 482.96,682.2 483.25,683.14 483.48,684.28 483.64,685.62 483.75,687.12 483.81,688.73 483.84,690.4 483.88,692.07 483.94,693.68 484.06,695.18 484.27,696.53 484.61,697.67 485.11,698.57 485.92,698.96 486.08,698.84 486.03,698.08 485.9,697.31 485.8,696.3 485.74,695.06 485.72,693.62 485.72,692.04 485.7,690.37 485.64,688.66 485.52,686.98 485.31,685.38 484.98,683.93 484.5,682.66 483.84,681.65 482.88,681.14" fill="#c8dcf8" opacity="0.5"/>
<polygon points="498.32,696.25 498.05,697.5 498.09,698.34 498.21,699.43 498.35,700.78 498.5,702.36 498.65,704.1 498.81,705.93 499,707.79 499.26,709.61 499.59,711.33 500.05,712.9 500.69,714.28 501.61,715.4 503.09,715.52 504.31,714.48 504.8,713.45 504.93,712.81 504.93,711.84 504.9,710.55 504.83,709 504.73,707.25 504.58,705.38 504.36,703.44 504.04,701.53 503.6,699.69 503,698 502.18,696.5 501.09,695.32 499.48,695.15" fill="#9dbbea" stroke="#5e7cb4" stroke-width="0.5" stroke-linejoin="round"/>
<polygon points="498.83,695.77 499.15,696.71 499.53,697.7 499.86,698.93 500.15,700.4 500.39,702.07 500.59,703.87 500.77,705.74 500.95,707.61 501.16,709.4 501.41,711.06 501.74,712.53 502.18,713.76 502.76,714.7 503.62,715.07 503.78,714.93 503.65,714.15 503.44,713.32 503.24,712.21 503.08,710.82 502.93,709.21 502.78,707.44 502.62,705.57 502.42,703.67 502.15,701.81 501.8,700.06 501.34,698.49 500.75,697.15 499.99,696.11 498.97,695.63" fill="#c8dcf8" opacity="0.5"/>
<polygon points="516.07,709.9 515.91,711.15 515.94,711.87 516.04,712.76 516.16,713.88 516.28,715.21 516.4,716.7 516.54,718.28 516.7,719.91 516.92,721.51 517.24,723.05 517.7,724.48 518.37,725.76 519.37,726.8 520.85,726.78 521.95,725.62 522.37,724.58 522.53,724.07 522.56,723.29 522.54,722.22 522.5,720.9 522.43,719.39 522.31,717.75 522.12,716.04 521.82,714.33 521.38,712.68 520.76,711.13 519.9,709.76 518.73,708.7 517.13,708.7" fill="#9dbbea" stroke="#5e7cb4" stroke-width="0.5" stroke-linejoin="round"/>
<polygon points="516.53,709.38 516.93,710.27 517.33,711.13 517.67,712.2 517.95,713.47 518.17,714.91 518.35,716.48 518.5,718.1 518.65,719.73 518.83,721.31 519.06,722.77 519.38,724.07 519.83,725.17 520.45,726 521.33,726.27 521.47,726.13 521.29,725.38 521.07,724.66 520.88,723.7 520.72,722.51 520.6,721.11 520.48,719.57 520.35,717.93 520.17,716.27 519.93,714.63 519.59,713.09 519.12,711.69 518.51,710.5 517.71,709.59 516.67,709.22" fill="#c8dcf8" opacity="0.5"/>
<polygon points="535.29,722.02 535.2,723.31 535.32,724.08 535.53,725 535.77,726.1 536.04,727.38 536.33,728.79 536.64,730.29 536.99,731.81 537.4,733.31 537.89,734.74 538.5,736.05 539.28,737.21 540.31,738.11 541.77,738 542.83,736.8 543.18,735.7 543.25,735.12 543.18,734.32 543.05,733.28 542.86,732.02 542.61,730.59 542.31,729.04 541.92,727.44 541.43,725.84 540.82,724.31 540.05,722.89 539.09,721.65 537.89,720.72 536.31,720.78" fill="#9dbbea" stroke="#5e7cb4" stroke-width="0.5" stroke-linejoin="round"/>
<polygon points="535.74,721.48 536.17,722.37 536.65,723.23 537.09,724.27 537.5,725.48 537.88,726.85 538.23,728.33 538.57,729.86 538.91,731.39 539.26,732.87 539.66,734.24 540.12,735.45 540.67,736.47 541.35,737.24 542.23,737.47 542.37,737.33 542.14,736.57 541.85,735.85 541.56,734.92 541.28,733.78 540.99,732.46 540.7,731 540.38,729.46 540.02,727.9 539.59,726.37 539.09,724.92 538.49,723.62 537.77,722.5 536.92,721.65 535.86,721.32" fill="#c8dcf8" opacity="0.5"/>
<polygon points="554.44,733.85 554.11,735.26 554.34,736.39 554.68,737.61 555.11,738.94 555.59,740.36 556.13,741.84 556.71,743.33 557.32,744.81 557.97,746.22 558.66,747.55 559.38,748.74 560.16,749.76 561.04,750.57 562.43,750.74 563.77,749.86 564.24,748.64 564.15,747.71 563.92,746.64 563.59,745.44 563.16,744.1 562.66,742.66 562.09,741.17 561.45,739.65 560.75,738.16 559.99,736.73 559.16,735.4 558.27,734.23 557.27,733.27 555.76,732.95" fill="#9dbbea" stroke="#5e7cb4" stroke-width="0.5" stroke-linejoin="round"/>
<polygon points="555.02,733.46 555.25,734.55 555.72,735.63 556.23,736.85 556.78,738.18 557.35,739.61 557.94,741.09 558.54,742.6 559.14,744.08 559.75,745.5 560.35,746.82 560.95,748.01 561.56,749.04 562.19,749.88 563.02,750.36 563.18,750.24 563.09,749.34 562.75,748.43 562.35,747.37 561.9,746.16 561.39,744.82 560.85,743.39 560.26,741.9 559.64,740.39 558.99,738.91 558.31,737.49 557.61,736.17 556.89,734.99 556.14,733.99 555.18,733.34" fill="#c8dcf8" opacity="0.5"/>
<polyline points="416.6,660.3 420.7,659.3 424.7,661.3 423.7,665.4 419.6,666.4 416.6,660.3" fill="none" stroke="#b02ee4" stroke-width="1.5" stroke-linejoin="round"/>
<polyline points="424.7,661.3 427.8,659.3 433.9,657.2 439,661.3 437,667.4 432.9,669.5 430.9,663.4 427.8,659.3" fill="none" stroke="#b02ee4" stroke-width="1.5" stroke-linejoin="round"/>
<polyline points="439,661.3 445.2,652.1 451.3,648 455.4,651.1 460.5,647 463.6,643.9 466.6,640.9 471.7,646 475.8,649 479.9,651.1 479.9,657.2 475.8,660.3 471.7,661.3 467.7,659.3 461.5,661.3 455.4,661.3 451.3,659.3 446.2,661.3 439,661.3" fill="none" stroke="#b02ee4" stroke-width="1.5" stroke-linejoin="round"/>
<polyline points="466.6,640.9 468.7,636.8 467.7,630.7 465.6,624.5" fill="none" stroke="#b02ee4" stroke-width="1.5" stroke-linejoin="round"/>
<polyline points="468.7,636.8 473.8,636.8 471.7,632.7 477.9,630.7" fill="none" stroke="#b02ee4" stroke-width="1.5" stroke-linejoin="round"/>
<polyline points="479.9,651.1 484,652.1 487.1,646 488.1,640.9 489.1,636.8 490.1,631.7" fill="none" stroke="#b02ee4" stroke-width="1.5" stroke-linejoin="round"/>
<polyline points="479.9,657.2 479.9,665.4 475.8,670.5 469.7,671.5 463.6,667.4 461.5,661.3" fill="none" stroke="#b02ee4" stroke-width="1.5" stroke-linejoin="round"/>
<polyline points="463.6,667.4 451.3,669.5 445.2,673.6 443.1,679.7 439,683.8 437,689.9 438,696.1" fill="none" stroke="#b02ee4" stroke-width="1.5" stroke-linejoin="round"/>
<polyline points="432.9,669.5 433.9,671.5 429.9,672.6" fill="none" stroke="#b02ee4" stroke-width="1.5" stroke-linejoin="round"/>
<polyline points="451.3,648 450.3,643" fill="none" stroke="#b02ee4" stroke-width="1.5" stroke-linejoin="round"/>
<polyline points="461.5,638.8 463.6,643.9" fill="none" stroke="#b02ee4" stroke-width="1.5" stroke-linejoin="round"/>
<circle cx="416.6" cy="660.3" r="2.1" fill="#b02ee4"/>
<circle cx="420.7" cy="659.3" r="2.1" fill="#b02ee4"/>
<circle cx="424.7" cy="661.3" r="2.1" fill="#b02ee4"/>
<circle cx="423.7" cy="665.4" r="2.1" fill="#b02ee4"/>
<circle cx="419.6" cy="666.4" r="2.1" fill="#b02ee4"/>
<circle cx="427.8" cy="659.3" r="2.1" fill="#b02ee4"/>
<circle cx="433.9" cy="657.2" r="2.1" fill="#b02ee4"/>
<circle cx="439" cy="661.3" r="2.1" fill="#b02ee4"/>
<circle cx="437" cy="667.4" r="2.1" fill="#b02ee4"/>
<circle cx="432.9" cy="669.5" r="2.1" fill="#b02ee4"/>
<circle cx="430.9" cy="663.4" r="2.1" fill="#b02ee4"/>
<circle cx="445.2" cy="652.1" r="2.1" fill="#b02ee4"/>
<circle cx="451.3" cy="648" r="2.1" fill="#b02ee4"/>
<circle cx="455.4" cy="651.1" r="2.1" fill="#b02ee4"/>
<circle cx="460.5" cy="647" r="2.1" fill="#b02ee4"/>
<circle cx="463.6" cy="643.9" r="2.1" fill="#b02ee4"/>
<circle cx="466.6" cy="640.9" r="2.1" fill="#b02ee4"/>
<circle cx="471.7" cy="646" r="2.1" fill="#b02ee4"/>
<circle cx="475.8" cy="649" r="2.1" fill="#b02ee4"/>
<circle cx="479.9" cy="651.1" r="2.1" fill="#b02ee4"/>
<circle cx="479.9" cy="657.2" r="2.1" fill="#b02ee4"/>
<circle cx="475.8" cy="660.3" r="2.1" fill="#b02ee4"/>
<circle cx="471.7" cy="661.3" r="2.1" fill="#b02ee4"/>
<circle cx="467.7" cy="659.3" r="2.1" fill="#b02ee4"/>
<circle cx="461.5" cy="661.3" r="2.1" fill="#b02ee4"/>
<circle cx="455.4" cy="661.3" r="2.1" fill="#b02ee4"/>
<circle cx="451.3" cy="659.3" r="2.1" fill="#b02ee4"/>
<circle cx="446.2" cy="661.3" r="2.1" fill="#b02ee4"/>
<circle cx="468.7" cy="636.8" r="2.1" fill="#b02ee4"/>
<circle cx="467.7" cy="630.7" r="2.1" fill="#b02ee4"/>
<circle cx="465.6" cy="624.5" r="2.1" fill="#b02ee4"/>
<circle cx="473.8" cy="636.8" r="2.1" fill="#b02ee4"/>
<circle cx="471.7" cy="632.7" r="2.1" fill="#b02ee4"/>
<circle cx="477.9" cy="630.7" r="2.1" fill="#b02ee4"/>
<circle cx="484" cy="652.1" r="2.1" fill="#b02ee4"/>
<circle cx="487.1" cy="646" r="2.1" fill="#b02ee4"/>
<circle cx="488.1" cy="640.9" r="2.1" fill="#b02ee4"/>
<circle cx="489.1" cy="636.8" r="2.1" fill="#b02ee4"/>
<circle cx="490.1" cy="631.7" r="2.1" fill="#b02ee4"/>
<circle cx="479.9" cy="665.4" r="2.1" fill="#b02ee4"/>
<circle cx="475.8" cy="670.5" r="2.1" fill="#b02ee4"/>
<circle cx="469.7" cy="671.5" r="2.1" fill="#b02ee4"/>
<circle cx="463.6" cy="667.4" r="2.1" fill="#b02ee4"/>
<circle cx="451.3" cy="669.5" r="2.1" fill="#b02ee4"/>
<circle cx="445.2" cy="673.6" r="2.1" fill="#b02ee4"/>
<circle cx="443.1" cy="679.7" r="2.1" fill="#b02ee4"/>
<circle cx="439" cy="683.8" r="2.1" fill="#b02ee4"/>
<circle cx="437" cy="689.9" r="2.1" fill="#b02ee4"/>
<circle cx="438" cy="696.1" r="2.1" fill="#b02ee4"/>
<circle cx="433.9" cy="671.5" r="2.1" fill="#b02ee4"/>
<circle cx="429.9" cy="672.6" r="2.1" fill="#b02ee4"/>
<circle cx="450.3" cy="643" r="2.1" fill="#b02ee4"/>
<circle cx="461.5" cy="638.8" r="2.1" fill="#b02ee4"/>
<circle cx="444.2" cy="653.1" r="1.7" fill="#2233ee"/>
<circle cx="460.5" cy="644" r="1.7" fill="#2233ee"/>
<circle cx="472.8" cy="659.3" r="1.7" fill="#2233ee"/>
<circle cx="477.9" cy="647" r="1.7" fill="#2233ee"/>
<circle cx="433.9" cy="671.5" r="1.7" fill="#2233ee"/>
<circle cx="429.9" cy="672.6" r="1.6" fill="#ee2020"/>
<circle cx="461.5" cy="638.8" r="1.6" fill="#ee2020"/>
<circle cx="450.3" cy="643" r="1.6" fill="#ee2020"/>
<circle cx="484" cy="658.2" r="1.6" fill="#ee2020"/>
<circle cx="432.9" cy="676.6" r="1.6" fill="#ee2020"/>
<polygon points="462.36,644.89 463.22,645.39 464.38,645.19 465.42,644.59 466.35,643.75 467.26,642.73 468.14,641.6 469.02,640.43 469.88,639.29 470.71,638.25 471.5,637.4 472.2,636.78 472.78,636.41 473.26,636.22 474.02,636.08 474.38,634.72 473.41,634.12 472.11,634.15 470.87,634.63 469.74,635.41 468.69,636.41 467.71,637.55 466.78,638.75 465.91,639.94 465.11,641.04 464.39,641.97 463.78,642.66 463.34,643.07 463.11,643.28 462.64,643.51" fill="#a8484a" stroke="#8a3a3c" stroke-width="0.5" stroke-linejoin="round"/>
<polygon points="452.75,626.16 452.65,627.61 452.81,628.48 453.13,629.56 453.56,630.91 454.04,632.49 454.58,634.24 455.17,636.09 455.8,637.95 456.48,639.76 457.24,641.45 458.1,642.96 459.11,644.23 460.37,645.16 462.02,644.84 462.98,643.56 463.36,642.29 463.4,641.58 463.22,640.59 462.92,639.28 462.51,637.7 462.02,635.93 461.44,634.04 460.77,632.1 459.99,630.21 459.1,628.43 458.07,626.83 456.86,625.49 455.43,624.54 453.65,624.84" fill="#d06666" stroke="#8a3a3c" stroke-width="0.5" stroke-linejoin="round"/>
<polygon points="453.14,625.58 453.64,626.51 454.23,627.43 454.84,628.62 455.46,630.06 456.07,631.72 456.69,633.52 457.3,635.39 457.91,637.26 458.54,639.06 459.19,640.71 459.87,642.14 460.61,643.3 461.44,644.13 462.44,644.28 462.56,644.12 462.29,643.32 461.9,642.51 461.46,641.41 460.97,640.02 460.45,638.4 459.9,636.62 459.31,634.73 458.66,632.83 457.96,630.99 457.2,629.28 456.36,627.77 455.45,626.53 454.43,625.64 453.26,625.42" fill="#e89898" opacity="0.5"/>
<path d="M439.2,677 C440.28,677.25 444.35,676.63 445.7,678.5 C447.05,680.37 446.5,685.52 447.3,688.2 C448.1,690.88 448.63,693 450.5,694.6 C452.37,696.2 456.08,698.07 458.5,697.8 C460.92,697.53 463.13,695.67 465,693 C466.87,690.33 468.63,685.55 469.7,681.8 C470.77,678.05 471.67,673.45 471.4,670.5 C471.13,667.55 469.98,665.17 468.1,664.1 C466.22,663.03 463.03,663.57 460.1,664.1 C457.17,664.63 452.1,666.77 450.5,667.3" fill="none" stroke="#8a3a3c" stroke-width="4.6" stroke-linecap="round" stroke-linejoin="round"/>
<path d="M439.2,677 C440.28,677.25 444.35,676.63 445.7,678.5 C447.05,680.37 446.5,685.52 447.3,688.2 C448.1,690.88 448.63,693 450.5,694.6 C452.37,696.2 456.08,698.07 458.5,697.8 C460.92,697.53 463.13,695.67 465,693 C466.87,690.33 468.63,685.55 469.7,681.8 C470.77,678.05 471.67,673.45 471.4,670.5 C471.13,667.55 469.98,665.17 468.1,664.1 C466.22,663.03 463.03,663.57 460.1,664.1 C457.17,664.63 452.1,666.77 450.5,667.3" fill="none" stroke="#d06666" stroke-width="3.6" stroke-linecap="round" stroke-linejoin="round"/>
<path d="M664,602.8 C662.4,601.33 658.18,596.12 654.4,594 C650.62,591.88 646.7,590.97 641.3,590.1 C635.9,589.23 626.55,589.98 622,588.8 C617.45,587.62 616.5,584.97 614,583 C611.5,581.03 609.67,578.58 607,577 C604.33,575.42 601.93,574.17 598,573.5 C594.07,572.83 588.73,572.5 583.4,573 C578.07,573.5 570.57,574.83 566,576.5 C561.43,578.17 558.33,580.42 556,583 C553.67,585.58 552.83,588.5 552,592 C551.17,595.5 552,600.33 551,604 C550,607.67 548.17,610.83 546,614 C543.83,617.17 540.33,619.67 538,623 C535.67,626.33 532.83,630.17 532,634 C531.17,637.83 531.67,642.5 533,646 C534.33,649.5 536.67,652.7 540,655 C543.33,657.3 548.5,658.58 553,659.8 C557.5,661.02 562.5,661.88 567,662.3 C571.5,662.72 575.33,661.93 580,662.3 C584.67,662.67 590,663.97 595,664.5 C600,665.03 605.17,666.08 610,665.5 C614.83,664.92 619.83,662.75 624,661 C628.17,659.25 632.17,657 635,655 C637.83,653 640,651.17 641,649 C642,646.83 642,644 641,642 C640,640 636.83,638.83 635,637 C633.17,635.17 631.08,633 630,631 C628.92,629 628.33,626 628.5,625 C628.67,624 629.58,624.03 631,625 C632.42,625.97 634.12,629.4 637,630.8 C639.88,632.2 644.67,633.4 648.3,633.4 C651.93,633.4 655.88,632.83 658.8,630.8 C661.72,628.77 664.63,622.8 665.8,621.2" fill="none" stroke="#b0b0b0" stroke-width="0.6"/>
<polyline points="567,583.9 572.9,587.4 579.9,580.4" fill="none" stroke="#333333" stroke-width="0.75" stroke-linejoin="round"/>
<polyline points="572.9,587.4 570.5,594 569,601" fill="none" stroke="#333333" stroke-width="0.75" stroke-linejoin="round"/>
<polyline points="569,601 574,602.6 579.9,596.5" fill="none" stroke="#333333" stroke-width="0.75" stroke-linejoin="round"/>
<polyline points="574,602.6 567,602.6 561.2,597" fill="none" stroke="#333333" stroke-width="0.75" stroke-linejoin="round"/>
<polyline points="567,602.6 560.5,609.5" fill="none" stroke="#333333" stroke-width="0.75" stroke-linejoin="round"/>
<polyline points="582,595.5 588,595.5 591,602" fill="none" stroke="#333333" stroke-width="0.75" stroke-linejoin="round"/>
<polyline points="588,595.5 595,588.5 602,588.5 605.5,583.5" fill="none" stroke="#333333" stroke-width="0.75" stroke-linejoin="round"/>
<polyline points="602,588.5 608,595.5 612.5,597" fill="none" stroke="#333333" stroke-width="0.75" stroke-linejoin="round"/>
<polyline points="614.5,600 618.5,605.4 614,610.5" fill="none" stroke="#333333" stroke-width="0.75" stroke-linejoin="round"/>
<polyline points="618.5,605.4 626.4,606.3 634.3,602.3 641.3,606.3 638.6,615.9 631,615.6" fill="none" stroke="#333333" stroke-width="0.75" stroke-linejoin="round"/>
<polyline points="628,614.5 626.4,606.3" fill="none" stroke="#333333" stroke-width="0.75" stroke-linejoin="round"/>
<polyline points="641.3,606.3 650,605.4 654.4,613.3 650.9,621.2 643,622.9 638.6,615.9" fill="none" stroke="#333333" stroke-width="0.75" stroke-linejoin="round"/>
<polyline points="641.3,606.3 643,601" fill="none" stroke="#333333" stroke-width="0.75" stroke-linejoin="round"/>
<polyline points="638.6,615.9 635,621.5" fill="none" stroke="#333333" stroke-width="0.75" stroke-linejoin="round"/>
<polyline points="628,617.5 623.1,621.2 617,619.5" fill="none" stroke="#333333" stroke-width="0.75" stroke-linejoin="round"/>
<polyline points="623.1,621.2 624.3,629.4 619,634" fill="none" stroke="#333333" stroke-width="0.75" stroke-linejoin="round"/>
<polyline points="624.3,629.4 632.5,635.3 632.5,643.4" fill="none" stroke="#333333" stroke-width="0.75" stroke-linejoin="round"/>
<polyline points="623.1,643.4 639.5,642.3" fill="none" stroke="#333333" stroke-width="0.75" stroke-linejoin="round"/>
<polyline points="632.5,643.4 632.5,650.4" fill="none" stroke="#333333" stroke-width="0.75" stroke-linejoin="round"/>
<polyline points="615,637.5 612.6,645.8 619.5,648" fill="none" stroke="#333333" stroke-width="0.75" stroke-linejoin="round"/>
<polyline points="612.6,645.8 603.3,643.4" fill="none" stroke="#333333" stroke-width="0.75" stroke-linejoin="round"/>
<polyline points="590.4,641.1 595,637.5 601,638.5 604.4,644.5 601,650.5 594.5,652 590.4,647.5 590.4,641.1" fill="none" stroke="#333333" stroke-width="0.75" stroke-linejoin="round"/>
<polyline points="562,613.5 564.7,617.7 571.7,617.7 576,624" fill="none" stroke="#333333" stroke-width="0.75" stroke-linejoin="round"/>
<polyline points="576,624 582,624.6 586,631 583.5,638 577,639 573.5,633 576,624" fill="none" stroke="#333333" stroke-width="0.75" stroke-linejoin="round"/>
<polyline points="564.7,617.7 561.2,625.9 554.5,625.9" fill="none" stroke="#333333" stroke-width="0.75" stroke-linejoin="round"/>
<polyline points="561.2,625.9 564.5,631" fill="none" stroke="#333333" stroke-width="0.75" stroke-linejoin="round"/>
<polyline points="564.5,635 562.4,638.8 554.2,642.3 544.9,642.3" fill="none" stroke="#333333" stroke-width="0.75" stroke-linejoin="round"/>
<polyline points="554.2,635.3 554.2,642.3 554.2,647" fill="none" stroke="#333333" stroke-width="0.75" stroke-linejoin="round"/>
<polyline points="562.4,638.8 565.9,649.3 562.4,655.5" fill="none" stroke="#333333" stroke-width="0.75" stroke-linejoin="round"/>
<polyline points="565.9,649.3 572,648.5" fill="none" stroke="#333333" stroke-width="0.75" stroke-linejoin="round"/>
<polyline points="576.5,649 582.2,652.8 590.4,647.5" fill="none" stroke="#333333" stroke-width="0.75" stroke-linejoin="round"/>
<text x="559.5" y="596.5" font-size="5" fill="#dd2222">O</text>
<text x="578.5" y="598" font-size="5" fill="#2233dd">N</text>
<text x="580" y="591.5" font-size="5" fill="#2233dd">H</text>
<text x="589.5" y="606" font-size="5" fill="#dd2222">O</text>
<text x="604" y="583" font-size="5" fill="#dd2222">OH</text>
<text x="611.5" y="600" font-size="5" fill="#2233dd">N</text>
<text x="612" y="594" font-size="5" fill="#2233dd">H</text>
<text x="611" y="614" font-size="5" fill="#dd2222">O</text>
<text x="627.6" y="617.4" font-size="5" fill="#2233dd">N</text>
<text x="642" y="600.5" font-size="5" fill="#333">H</text>
<text x="633" y="624.5" font-size="5" fill="#333">H</text>
<text x="613" y="622" font-size="5" fill="#dd2222">O</text>
<text x="612" y="637" font-size="5" fill="#2233dd">HN</text>
<text x="618.5" y="651" font-size="5" fill="#dd2222">O</text>
<text x="554.5" y="613.5" font-size="5" fill="#2233dd">NH</text>
<text x="550.5" y="628" font-size="5" fill="#dd2222">O</text>
<text x="563" y="635" font-size="5" fill="#2233dd">NH</text>
<text x="549.5" y="652.5" font-size="5" fill="#dd2222">OH</text>
<text x="560" y="659.5" font-size="5" fill="#dd2222">O</text>
<text x="572" y="650" font-size="5" fill="#2233dd">N</text>
<text x="572.5" y="644.5" font-size="5" fill="#2233dd">H</text>
<line x1="603" y1="632" x2="584" y2="651" stroke="#44bb44" stroke-width="0.6"/>
<line x1="615" y1="660" x2="598" y2="641" stroke="#44bb44" stroke-width="0.6"/>
<line x1="582.7" y1="668.5" x2="582.2" y2="653" stroke="#44bb44" stroke-width="0.6"/>
<line x1="623" y1="585" x2="615" y2="593" stroke="#44bb44" stroke-width="0.6"/>
<line x1="600" y1="633" x2="596" y2="645" stroke="#44bb44" stroke-width="0.6"/>
<text x="579" y="664" font-size="2.8" fill="#333">3.04</text>
<circle cx="622.6" cy="564" r="6.6" fill="#dccbf5" stroke="#c4a8e4" stroke-width="0.9"/>
<text x="622.6" y="563.4" font-size="4" text-anchor="middle" fill="#444">Q</text>
<text x="622.6" y="567.4" font-size="2.7" text-anchor="middle" fill="#444">A278</text>
<circle cx="627.8" cy="582.7" r="6.6" fill="#dccbf5" stroke="#c4a8e4" stroke-width="0.9"/>
<text x="627.8" y="582.1" font-size="4" text-anchor="middle" fill="#444">Q</text>
<text x="627.8" y="586.1" font-size="2.7" text-anchor="middle" fill="#444">A275</text>
<circle cx="647.6" cy="583.9" r="6.6" fill="#dccbf5" stroke="#cc3344" stroke-width="0.9"/>
<text x="647.6" y="583.3" font-size="4" text-anchor="middle" fill="#444">E</text>
<text x="647.6" y="587.3" font-size="2.7" text-anchor="middle" fill="#444">A250</text>
<circle cx="674.5" cy="599" r="6.6" fill="#dccbf5" stroke="#cc3344" stroke-width="0.9"/>
<text x="674.5" y="598.4" font-size="4" text-anchor="middle" fill="#444">D</text>
<text x="674.5" y="602.4" font-size="2.7" text-anchor="middle" fill="#444">A256</text>
<circle cx="599.3" cy="611.2" r="6.6" fill="#dccbf5" stroke="#3333cc" stroke-width="0.9"/>
<text x="599.3" y="610.6" font-size="4" text-anchor="middle" fill="#444">K</text>
<text x="599.3" y="614.6" font-size="2.7" text-anchor="middle" fill="#444">A251</text>
<circle cx="675.7" cy="623.6" r="6.6" fill="#d8f2cf" stroke="#a8d8a0" stroke-width="0.9"/>
<text x="675.7" y="623.0" font-size="4" text-anchor="middle" fill="#444">A</text>
<text x="675.7" y="627.0" font-size="2.7" text-anchor="middle" fill="#444">A261</text>
<circle cx="604.4" cy="627.1" r="6.6" fill="#dccbf5" stroke="#cc3344" stroke-width="0.9"/>
<text x="604.4" y="626.5" font-size="4" text-anchor="middle" fill="#444">D</text>
<text x="604.4" y="630.5" font-size="2.7" text-anchor="middle" fill="#444">A224</text>
<circle cx="658.1" cy="637.6" r="6.6" fill="#dccbf5" stroke="#c4a8e4" stroke-width="0.9"/>
<text x="658.1" y="637.0" font-size="4" text-anchor="middle" fill="#444">H</text>
<text x="658.1" y="641.0" font-size="2.7" text-anchor="middle" fill="#444">A271</text>
<circle cx="656.3" cy="658.6" r="6.6" fill="#d8f2cf" stroke="#a8d8a0" stroke-width="0.9"/>
<text x="656.3" y="658.0" font-size="4" text-anchor="middle" fill="#444">P</text>
<text x="656.3" y="662.0" font-size="2.7" text-anchor="middle" fill="#444">A252</text>
<circle cx="616.8" cy="666.1" r="6.6" fill="#dccbf5" stroke="#cc3344" stroke-width="0.9"/>
<text x="616.8" y="665.5" font-size="4" text-anchor="middle" fill="#444">E</text>
<text x="616.8" y="669.5" font-size="2.7" text-anchor="middle" fill="#444">A221</text>
<circle cx="582.7" cy="675" r="6.6" fill="#dccbf5" stroke="#cc3344" stroke-width="0.9"/>
<text x="582.7" y="674.4" font-size="4" text-anchor="middle" fill="#444">E</text>
<text x="582.7" y="678.4" font-size="2.7" text-anchor="middle" fill="#444">A220</text>
<circle cx="564.2" cy="680.8" r="6.6" fill="#dccbf5" stroke="#3333cc" stroke-width="0.9"/>
<text x="564.2" y="680.1999999999999" font-size="4" text-anchor="middle" fill="#444">K</text>
<text x="564.2" y="684.1999999999999" font-size="2.7" text-anchor="middle" fill="#444">A111</text>
<circle cx="602.8" cy="683.1" r="6.6" fill="#d8f2cf" stroke="#a8d8a0" stroke-width="0.9"/>
<text x="602.8" y="682.5" font-size="4" text-anchor="middle" fill="#444">F</text>
<text x="602.8" y="686.5" font-size="2.7" text-anchor="middle" fill="#444">A207</text>
</g>
<text x="1.4" y="16.9" font-size="20" font-weight="bold" text-anchor="start" fill="#000" >a</text>
<text x="306.6" y="17" font-size="21.5" font-weight="bold" text-anchor="start" fill="#000" >b</text>
<text x="1.6" y="543.5" font-size="21.5" font-weight="bold" text-anchor="start" fill="#000" >c</text>
<text x="306" y="543.5" font-size="21.5" font-weight="bold" text-anchor="start" fill="#000" >d</text>
</svg>
</body></html>
